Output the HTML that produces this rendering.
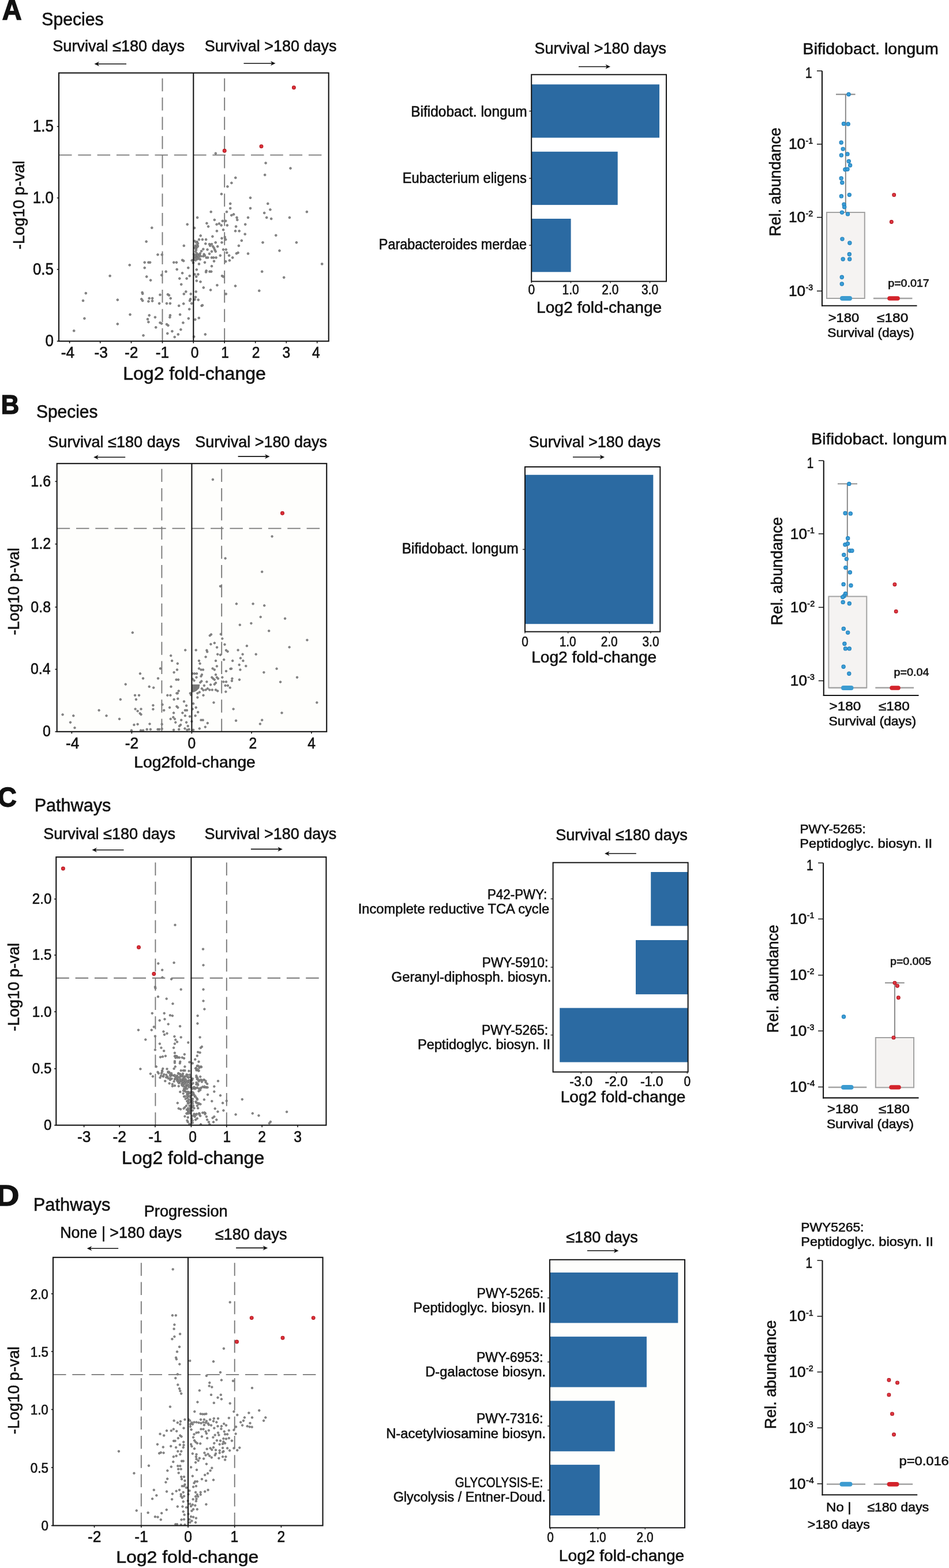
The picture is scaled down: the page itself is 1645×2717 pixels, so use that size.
<!DOCTYPE html>
<html lang="en"><head><meta charset="utf-8"><title>Figure</title>
<style>html,body{margin:0;padding:0;background:#fff}svg{display:block}</style></head>
<body>
<svg width="1645" height="2717" viewBox="0 0 1645 2717" font-family="'Liberation Sans', sans-serif">
<rect width="1645" height="2717" fill="#fff"/>
<text x="3.63" y="34.20" font-size="49.29" textLength="33.85" lengthAdjust="spacingAndGlyphs" fill="#111" font-weight="bold" stroke="#111" stroke-width="1.5">A</text>
<text x="72.34" y="43.70" font-size="31.00" textLength="107.22" lengthAdjust="spacingAndGlyphs" fill="#111" stroke="#111" stroke-width="0.6">Species</text>
<text x="91.28" y="89.30" font-size="27.71" textLength="228.66" lengthAdjust="spacingAndGlyphs" fill="#111" stroke="#111" stroke-width="0.6">Survival ≤180 days</text>
<text x="354.79" y="89.30" font-size="27.71" textLength="228.65" lengthAdjust="spacingAndGlyphs" fill="#111" stroke="#111" stroke-width="0.6">Survival &gt;180 days</text>
<line x1="166.50" y1="110.70" x2="219.00" y2="110.70" stroke="#111" stroke-width="1.60"/>
<path d="M163.50 110.70 L172.00 106.70 L169.50 110.70 L172.00 114.70 Z" fill="#111"/>
<line x1="422.50" y1="109.80" x2="474.50" y2="109.80" stroke="#111" stroke-width="1.60"/>
<path d="M477.50 109.80 L469.00 105.80 L471.50 109.80 L469.00 113.80 Z" fill="#111"/>
<line x1="281.50" y1="135.80" x2="281.50" y2="591.20" stroke="#777777" stroke-width="1.85" stroke-dasharray="22.5 10.8"/>
<line x1="389.20" y1="135.80" x2="389.20" y2="591.20" stroke="#777777" stroke-width="1.85" stroke-dasharray="22.5 10.8"/>
<line x1="102.00" y1="268.60" x2="559.00" y2="268.60" stroke="#777777" stroke-width="1.85" stroke-dasharray="22.5 10.8"/>
<clipPath id="cp1"><rect x="102.00" y="126.40" width="467.70" height="464.80"/></clipPath>
<g clip-path="url(#cp1)">
<g fill="#8b8b8b" stroke="#6c6c6c" stroke-width="0.9"><circle cx="434.0" cy="342.7" r="1.82"/><circle cx="399.2" cy="352.9" r="1.82"/><circle cx="464.3" cy="352.9" r="1.82"/><circle cx="399.2" cy="360.9" r="1.82"/><circle cx="434.0" cy="360.9" r="1.82"/><circle cx="468.4" cy="363.3" r="1.82"/><circle cx="365.7" cy="367.1" r="1.82"/><circle cx="393.0" cy="367.1" r="1.82"/><circle cx="458.2" cy="369.0" r="1.82"/><circle cx="531.9" cy="367.1" r="1.82"/><circle cx="401.3" cy="373.0" r="1.82"/><circle cx="405.1" cy="371.4" r="1.82"/><circle cx="342.1" cy="377.0" r="1.82"/><circle cx="410.5" cy="377.0" r="1.82"/><circle cx="430.0" cy="377.0" r="1.82"/><circle cx="462.2" cy="377.0" r="1.82"/><circle cx="501.9" cy="377.0" r="1.82"/><circle cx="470.2" cy="379.1" r="1.82"/><circle cx="371.8" cy="381.0" r="1.82"/><circle cx="411.3" cy="381.0" r="1.82"/><circle cx="385.8" cy="382.9" r="1.82"/><circle cx="391.2" cy="382.9" r="1.82"/><circle cx="324.7" cy="388.8" r="1.82"/><circle cx="358.4" cy="386.9" r="1.82"/><circle cx="379.9" cy="387.5" r="1.82"/><circle cx="375.6" cy="388.8" r="1.82"/><circle cx="383.6" cy="390.4" r="1.82"/><circle cx="393.8" cy="390.4" r="1.82"/><circle cx="425.2" cy="388.8" r="1.82"/><circle cx="361.1" cy="392.5" r="1.82"/><circle cx="337.0" cy="395.0" r="1.82"/><circle cx="409.1" cy="392.5" r="1.82"/><circle cx="387.1" cy="398.2" r="1.82"/><circle cx="375.9" cy="400.3" r="1.82"/><circle cx="408.0" cy="400.3" r="1.82"/><circle cx="414.7" cy="400.3" r="1.82"/><circle cx="424.7" cy="405.7" r="1.82"/><circle cx="478.3" cy="407.8" r="1.82"/><circle cx="347.7" cy="408.4" r="1.82"/><circle cx="368.4" cy="409.7" r="1.82"/><circle cx="389.8" cy="411.0" r="1.82"/><circle cx="384.5" cy="412.9" r="1.82"/><circle cx="391.2" cy="415.1" r="1.82"/><circle cx="345.0" cy="415.1" r="1.82"/><circle cx="350.9" cy="415.1" r="1.82"/><circle cx="357.1" cy="415.1" r="1.82"/><circle cx="418.8" cy="416.9" r="1.82"/><circle cx="337.5" cy="417.7" r="1.82"/><circle cx="341.6" cy="419.1" r="1.82"/><circle cx="373.7" cy="420.2" r="1.82"/><circle cx="384.5" cy="420.2" r="1.82"/><circle cx="455.5" cy="420.2" r="1.82"/><circle cx="513.9" cy="420.2" r="1.82"/><circle cx="318.8" cy="425.8" r="1.82"/><circle cx="356.3" cy="422.3" r="1.82"/><circle cx="363.0" cy="423.1" r="1.82"/><circle cx="367.0" cy="423.1" r="1.82"/><circle cx="338.9" cy="425.8" r="1.82"/><circle cx="342.9" cy="426.3" r="1.82"/><circle cx="364.3" cy="425.8" r="1.82"/><circle cx="369.2" cy="427.1" r="1.82"/><circle cx="377.2" cy="427.1" r="1.82"/><circle cx="413.9" cy="425.8" r="1.82"/><circle cx="338.3" cy="428.5" r="1.82"/><circle cx="340.2" cy="429.8" r="1.82"/><circle cx="371.0" cy="429.8" r="1.82"/><circle cx="352.3" cy="431.7" r="1.82"/><circle cx="359.5" cy="432.5" r="1.82"/><circle cx="372.4" cy="433.0" r="1.82"/><circle cx="387.1" cy="432.5" r="1.82"/><circle cx="391.7" cy="432.5" r="1.82"/><circle cx="484.5" cy="434.4" r="1.82"/><circle cx="349.1" cy="435.2" r="1.82"/><circle cx="367.0" cy="435.7" r="1.82"/><circle cx="373.7" cy="435.7" r="1.82"/><circle cx="393.3" cy="437.9" r="1.82"/><circle cx="409.9" cy="439.2" r="1.82"/><circle cx="412.6" cy="437.9" r="1.82"/><circle cx="430.0" cy="439.5" r="1.82"/><circle cx="336.2" cy="440.5" r="1.82"/><circle cx="340.2" cy="441.3" r="1.82"/><circle cx="344.2" cy="441.3" r="1.82"/><circle cx="346.9" cy="439.2" r="1.82"/><circle cx="353.6" cy="440.5" r="1.82"/><circle cx="363.0" cy="439.7" r="1.82"/><circle cx="381.8" cy="442.7" r="1.82"/><circle cx="397.1" cy="442.7" r="1.82"/><circle cx="337.5" cy="444.0" r="1.82"/><circle cx="341.6" cy="444.0" r="1.82"/><circle cx="352.3" cy="444.0" r="1.82"/><circle cx="355.0" cy="442.7" r="1.82"/><circle cx="336.7" cy="446.7" r="1.82"/><circle cx="340.2" cy="446.7" r="1.82"/><circle cx="346.9" cy="449.4" r="1.82"/><circle cx="357.6" cy="446.4" r="1.82"/><circle cx="360.3" cy="446.4" r="1.82"/><circle cx="367.0" cy="446.4" r="1.82"/><circle cx="370.2" cy="446.4" r="1.82"/><circle cx="374.5" cy="446.4" r="1.82"/><circle cx="403.2" cy="446.4" r="1.82"/><circle cx="316.1" cy="450.7" r="1.82"/><circle cx="318.2" cy="452.1" r="1.82"/><circle cx="332.7" cy="451.3" r="1.82"/><circle cx="335.7" cy="449.9" r="1.82"/><circle cx="397.9" cy="451.3" r="1.82"/><circle cx="301.3" cy="454.7" r="1.82"/><circle cx="305.9" cy="454.7" r="1.82"/><circle cx="355.0" cy="454.7" r="1.82"/><circle cx="371.0" cy="452.6" r="1.82"/><circle cx="391.2" cy="453.1" r="1.82"/><circle cx="334.9" cy="455.3" r="1.82"/><circle cx="345.0" cy="457.4" r="1.82"/><circle cx="558.2" cy="457.4" r="1.82"/><circle cx="367.0" cy="461.2" r="1.82"/><circle cx="326.3" cy="464.1" r="1.82"/><circle cx="306.7" cy="466.8" r="1.82"/><circle cx="340.8" cy="467.3" r="1.82"/><circle cx="357.6" cy="469.2" r="1.82"/><circle cx="357.1" cy="471.4" r="1.82"/><circle cx="363.5" cy="470.6" r="1.82"/><circle cx="366.2" cy="470.6" r="1.82"/><circle cx="454.2" cy="470.6" r="1.82"/><circle cx="316.1" cy="473.2" r="1.82"/><circle cx="337.5" cy="475.4" r="1.82"/><circle cx="343.4" cy="475.4" r="1.82"/><circle cx="328.7" cy="478.1" r="1.82"/><circle cx="385.0" cy="478.1" r="1.82"/><circle cx="387.1" cy="479.4" r="1.82"/><circle cx="340.2" cy="479.4" r="1.82"/><circle cx="492.2" cy="480.8" r="1.82"/><circle cx="311.3" cy="482.6" r="1.82"/><circle cx="323.6" cy="482.6" r="1.82"/><circle cx="340.8" cy="486.6" r="1.82"/><circle cx="347.5" cy="488.3" r="1.82"/><circle cx="314.2" cy="492.8" r="1.82"/><circle cx="376.4" cy="494.2" r="1.82"/><circle cx="408.0" cy="495.5" r="1.82"/><circle cx="352.8" cy="498.4" r="1.82"/><circle cx="365.1" cy="502.5" r="1.82"/><circle cx="449.3" cy="503.8" r="1.82"/><circle cx="322.3" cy="505.4" r="1.82"/><circle cx="339.7" cy="505.4" r="1.82"/><circle cx="318.8" cy="509.4" r="1.82"/><circle cx="330.8" cy="509.4" r="1.82"/><circle cx="391.7" cy="509.4" r="1.82"/><circle cx="338.9" cy="514.8" r="1.82"/><circle cx="330.0" cy="518.3" r="1.82"/><circle cx="337.5" cy="519.1" r="1.82"/><circle cx="343.7" cy="519.6" r="1.82"/><circle cx="329.0" cy="521.0" r="1.82"/><circle cx="318.2" cy="526.3" r="1.82"/><circle cx="332.2" cy="525.8" r="1.82"/><circle cx="310.2" cy="529.8" r="1.82"/><circle cx="349.6" cy="529.8" r="1.82"/><circle cx="350.9" cy="529.0" r="1.82"/><circle cx="328.2" cy="535.7" r="1.82"/><circle cx="312.1" cy="545.1" r="1.82"/><circle cx="344.8" cy="551.0" r="1.82"/><circle cx="326.8" cy="551.8" r="1.82"/><circle cx="338.3" cy="553.7" r="1.82"/><circle cx="317.4" cy="559.3" r="1.82"/><circle cx="313.4" cy="571.1" r="1.82"/><circle cx="308.8" cy="579.4" r="1.82"/><circle cx="355.8" cy="579.4" r="1.82"/><circle cx="302.7" cy="584.0" r="1.82"/><circle cx="336.2" cy="583.4" r="1.82"/><circle cx="263.3" cy="394.7" r="1.82"/><circle cx="253.6" cy="418.6" r="1.82"/><circle cx="273.5" cy="441.3" r="1.82"/><circle cx="280.7" cy="441.3" r="1.82"/><circle cx="250.7" cy="454.7" r="1.82"/><circle cx="257.4" cy="454.7" r="1.82"/><circle cx="260.1" cy="454.7" r="1.82"/><circle cx="224.7" cy="459.3" r="1.82"/><circle cx="250.7" cy="464.1" r="1.82"/><circle cx="190.6" cy="478.1" r="1.82"/><circle cx="287.7" cy="470.6" r="1.82"/><circle cx="280.2" cy="476.7" r="1.82"/><circle cx="254.2" cy="479.4" r="1.82"/><circle cx="261.1" cy="485.6" r="1.82"/><circle cx="148.8" cy="508.1" r="1.82"/><circle cx="246.6" cy="506.8" r="1.82"/><circle cx="247.2" cy="508.9" r="1.82"/><circle cx="277.5" cy="510.8" r="1.82"/><circle cx="290.9" cy="510.2" r="1.82"/><circle cx="293.0" cy="511.6" r="1.82"/><circle cx="295.7" cy="516.9" r="1.82"/><circle cx="144.0" cy="521.0" r="1.82"/><circle cx="203.8" cy="519.6" r="1.82"/><circle cx="245.3" cy="518.3" r="1.82"/><circle cx="247.2" cy="521.0" r="1.82"/><circle cx="257.4" cy="522.3" r="1.82"/><circle cx="258.7" cy="516.9" r="1.82"/><circle cx="264.1" cy="516.9" r="1.82"/><circle cx="264.1" cy="521.5" r="1.82"/><circle cx="276.1" cy="525.8" r="1.82"/><circle cx="289.0" cy="525.8" r="1.82"/><circle cx="294.9" cy="525.8" r="1.82"/><circle cx="146.4" cy="551.8" r="1.82"/><circle cx="225.5" cy="545.1" r="1.82"/><circle cx="258.7" cy="546.4" r="1.82"/><circle cx="268.9" cy="549.7" r="1.82"/><circle cx="294.9" cy="546.4" r="1.82"/><circle cx="294.4" cy="549.7" r="1.82"/><circle cx="256.0" cy="553.1" r="1.82"/><circle cx="257.4" cy="558.0" r="1.82"/><circle cx="277.5" cy="559.3" r="1.82"/><circle cx="280.2" cy="560.6" r="1.82"/><circle cx="289.0" cy="562.0" r="1.82"/><circle cx="291.4" cy="563.9" r="1.82"/><circle cx="203.8" cy="561.4" r="1.82"/><circle cx="270.2" cy="567.3" r="1.82"/><circle cx="128.2" cy="573.2" r="1.82"/><circle cx="290.3" cy="577.8" r="1.82"/><circle cx="298.4" cy="574.0" r="1.82"/><circle cx="248.5" cy="581.3" r="1.82"/><circle cx="373.8" cy="265.8" r="1.82"/><circle cx="460.6" cy="282.5" r="1.82"/><circle cx="503.5" cy="291.6" r="1.82"/><circle cx="459.2" cy="303.1" r="1.82"/><circle cx="408.3" cy="308.0" r="1.82"/><circle cx="401.4" cy="317.0" r="1.82"/><circle cx="394.4" cy="323.3" r="1.82"/><circle cx="383.9" cy="336.2" r="1.82"/><circle cx="338.0" cy="430.0" r="1.82"/><circle cx="340.0" cy="433.0" r="1.82"/><circle cx="342.0" cy="428.0" r="1.82"/><circle cx="339.0" cy="436.0" r="1.82"/><circle cx="341.0" cy="439.0" r="1.82"/><circle cx="343.0" cy="442.0" r="1.82"/><circle cx="338.0" cy="444.0" r="1.82"/><circle cx="340.0" cy="447.0" r="1.82"/><circle cx="344.0" cy="445.0" r="1.82"/><circle cx="346.0" cy="442.0" r="1.82"/><circle cx="342.0" cy="449.0" r="1.82"/><circle cx="339.0" cy="451.0" r="1.82"/><circle cx="345.0" cy="448.0" r="1.82"/><circle cx="348.0" cy="444.0" r="1.82"/><circle cx="341.0" cy="425.0" r="1.82"/><circle cx="343.0" cy="422.0" r="1.82"/><circle cx="340.0" cy="420.0" r="1.82"/></g>
</g>
<g fill="#de303a" stroke="#b4181f" stroke-width="1.1"><circle cx="509.4" cy="151.8" r="2.9"/><circle cx="453.0" cy="253.6" r="2.9"/><circle cx="389.2" cy="261.3" r="2.9"/></g>
<line x1="335.30" y1="126.40" x2="335.30" y2="591.20" stroke="#151515" stroke-width="2.10"/>
<rect x="102.00" y="126.40" width="467.70" height="464.80" fill="none" stroke="#151515" stroke-width="2.10"/>
<line x1="120.60" y1="591.20" x2="120.60" y2="594.70" stroke="#151515" stroke-width="1.60"/>
<text x="105.69" y="620.00" font-size="28.00" textLength="23.40" lengthAdjust="spacingAndGlyphs" fill="#111" stroke="#111" stroke-width="0.6">-4</text>
<line x1="173.70" y1="591.20" x2="173.70" y2="594.70" stroke="#151515" stroke-width="1.60"/>
<text x="163.49" y="620.00" font-size="28.00" textLength="23.40" lengthAdjust="spacingAndGlyphs" fill="#111" stroke="#111" stroke-width="0.6">-3</text>
<line x1="227.50" y1="591.20" x2="227.50" y2="594.70" stroke="#151515" stroke-width="1.60"/>
<text x="215.89" y="620.00" font-size="28.00" textLength="23.40" lengthAdjust="spacingAndGlyphs" fill="#111" stroke="#111" stroke-width="0.6">-2</text>
<line x1="281.50" y1="591.20" x2="281.50" y2="594.70" stroke="#151515" stroke-width="1.60"/>
<text x="269.85" y="620.00" font-size="28.00" textLength="23.40" lengthAdjust="spacingAndGlyphs" fill="#111" stroke="#111" stroke-width="0.6">-1</text>
<line x1="335.30" y1="591.20" x2="335.30" y2="594.70" stroke="#151515" stroke-width="1.60"/>
<text x="330.73" y="620.00" font-size="28.00" textLength="13.70" lengthAdjust="spacingAndGlyphs" fill="#111" stroke="#111" stroke-width="0.6">0</text>
<line x1="389.20" y1="591.20" x2="389.20" y2="594.70" stroke="#151515" stroke-width="1.60"/>
<text x="383.22" y="620.00" font-size="28.00" textLength="13.70" lengthAdjust="spacingAndGlyphs" fill="#111" stroke="#111" stroke-width="0.6">1</text>
<line x1="442.70" y1="591.20" x2="442.70" y2="594.70" stroke="#151515" stroke-width="1.60"/>
<text x="436.86" y="620.00" font-size="28.00" textLength="13.70" lengthAdjust="spacingAndGlyphs" fill="#111" stroke="#111" stroke-width="0.6">2</text>
<line x1="496.30" y1="591.20" x2="496.30" y2="594.70" stroke="#151515" stroke-width="1.60"/>
<text x="489.52" y="620.00" font-size="28.00" textLength="13.70" lengthAdjust="spacingAndGlyphs" fill="#111" stroke="#111" stroke-width="0.6">3</text>
<line x1="549.70" y1="591.20" x2="549.70" y2="594.70" stroke="#151515" stroke-width="1.60"/>
<text x="540.92" y="620.00" font-size="28.00" textLength="13.70" lengthAdjust="spacingAndGlyphs" fill="#111" stroke="#111" stroke-width="0.6">4</text>
<line x1="98.80" y1="591.20" x2="102.00" y2="591.20" stroke="#151515" stroke-width="1.60"/>
<text x="78.55" y="599.90" font-size="28.57" textLength="14.46" lengthAdjust="spacingAndGlyphs" fill="#111" stroke="#111" stroke-width="0.6">0</text>
<line x1="98.80" y1="466.80" x2="102.00" y2="466.80" stroke="#151515" stroke-width="1.60"/>
<text x="56.90" y="475.50" font-size="28.57" textLength="36.15" lengthAdjust="spacingAndGlyphs" fill="#111" stroke="#111" stroke-width="0.6">0.5</text>
<line x1="98.80" y1="343.00" x2="102.00" y2="343.00" stroke="#151515" stroke-width="1.60"/>
<text x="56.83" y="351.70" font-size="28.57" textLength="36.15" lengthAdjust="spacingAndGlyphs" fill="#111" stroke="#111" stroke-width="0.6">1.0</text>
<line x1="98.80" y1="219.30" x2="102.00" y2="219.30" stroke="#151515" stroke-width="1.60"/>
<text x="56.90" y="228.00" font-size="28.57" textLength="36.15" lengthAdjust="spacingAndGlyphs" fill="#111" stroke="#111" stroke-width="0.6">1.5</text>
<text x="213.16" y="657.70" font-size="30.71" textLength="247.75" lengthAdjust="spacingAndGlyphs" fill="#111" stroke="#111" stroke-width="0.6">Log2 fold-change</text>
<text x="-1.24" y="0" font-size="27.71" textLength="153.79" lengthAdjust="spacingAndGlyphs" fill="#111" stroke="#111" stroke-width="0.6" transform="translate(41.90 431.00) rotate(-90)">-Log10 p-val</text>
<rect x="921.20" y="146.30" width="221.80" height="92.30" fill="#2b6aa2"/>
<rect x="921.20" y="262.80" width="149.50" height="92.30" fill="#2b6aa2"/>
<rect x="921.20" y="379.00" width="68.40" height="92.30" fill="#2b6aa2"/>
<rect x="921.20" y="129.30" width="233.80" height="358.30" fill="none" stroke="#151515" stroke-width="2.00"/>
<line x1="921.20" y1="487.60" x2="921.20" y2="490.60" stroke="#151515" stroke-width="1.20"/>
<text x="915.38" y="510.00" font-size="23.71" textLength="11.61" lengthAdjust="spacingAndGlyphs" fill="#111" stroke="#111" stroke-width="0.6">0</text>
<line x1="989.50" y1="487.60" x2="989.50" y2="490.60" stroke="#151515" stroke-width="1.20"/>
<text x="974.61" y="510.00" font-size="23.71" textLength="29.01" lengthAdjust="spacingAndGlyphs" fill="#111" stroke="#111" stroke-width="0.6">1.0</text>
<line x1="1058.00" y1="487.60" x2="1058.00" y2="490.60" stroke="#151515" stroke-width="1.20"/>
<text x="1043.37" y="510.00" font-size="23.71" textLength="29.01" lengthAdjust="spacingAndGlyphs" fill="#111" stroke="#111" stroke-width="0.6">2.0</text>
<line x1="1126.50" y1="487.60" x2="1126.50" y2="490.60" stroke="#151515" stroke-width="1.20"/>
<text x="1112.00" y="510.00" font-size="23.71" textLength="29.01" lengthAdjust="spacingAndGlyphs" fill="#111" stroke="#111" stroke-width="0.6">3.0</text>
<text x="926.49" y="93.40" font-size="27.71" textLength="228.45" lengthAdjust="spacingAndGlyphs" fill="#111" stroke="#111" stroke-width="0.6">Survival &gt;180 days</text>
<line x1="1003.00" y1="115.50" x2="1055.00" y2="115.50" stroke="#111" stroke-width="1.60"/>
<path d="M1058.00 115.50 L1049.50 111.50 L1052.00 115.50 L1049.50 119.50 Z" fill="#111"/>
<text x="712.18" y="202.00" font-size="24.86" textLength="201.61" lengthAdjust="spacingAndGlyphs" fill="#111" stroke="#111" stroke-width="0.6">Bifidobact. longum</text>
<text x="697.74" y="316.70" font-size="24.86" textLength="215.11" lengthAdjust="spacingAndGlyphs" fill="#111" stroke="#111" stroke-width="0.6">Eubacterium eligens</text>
<text x="656.87" y="432.20" font-size="24.86" textLength="256.15" lengthAdjust="spacingAndGlyphs" fill="#111" stroke="#111" stroke-width="0.6">Parabacteroides merdae</text>
<line x1="917.00" y1="192.50" x2="921.00" y2="192.50" stroke="#151515" stroke-width="1.30"/>
<line x1="917.00" y1="309.00" x2="921.00" y2="309.00" stroke="#151515" stroke-width="1.30"/>
<line x1="917.00" y1="425.00" x2="921.00" y2="425.00" stroke="#151515" stroke-width="1.30"/>
<text x="930.08" y="541.90" font-size="27.14" textLength="217.15" lengthAdjust="spacingAndGlyphs" fill="#111" stroke="#111" stroke-width="0.6">Log2 fold-change</text>
<line x1="1425.00" y1="122.80" x2="1425.00" y2="530.70" stroke="#151515" stroke-width="2.10"/>
<line x1="1424.00" y1="529.70" x2="1589.50" y2="529.70" stroke="#151515" stroke-width="2.10"/>
<line x1="1416.00" y1="122.80" x2="1425.00" y2="122.80" stroke="#151515" stroke-width="1.50"/>
<text x="1395.94" y="135.30" font-size="25.71" textLength="11.57" lengthAdjust="spacingAndGlyphs" fill="#111" stroke="#111" stroke-width="0.6">1</text>
<line x1="1416.00" y1="249.80" x2="1425.00" y2="249.80" stroke="#151515" stroke-width="1.50"/>
<text x="1367.03" y="258.30" font-size="25.00" textLength="29.22" lengthAdjust="spacingAndGlyphs" fill="#111" stroke="#111" stroke-width="0.6">10</text>
<text x="1396.55" y="248.50" font-size="14.71" textLength="12.75" lengthAdjust="spacingAndGlyphs" fill="#111" stroke="#111" stroke-width="0.6">-1</text>
<line x1="1416.00" y1="376.60" x2="1425.00" y2="376.60" stroke="#151515" stroke-width="1.50"/>
<text x="1367.03" y="385.10" font-size="25.00" textLength="29.22" lengthAdjust="spacingAndGlyphs" fill="#111" stroke="#111" stroke-width="0.6">10</text>
<text x="1396.55" y="375.30" font-size="14.71" textLength="12.79" lengthAdjust="spacingAndGlyphs" fill="#111" stroke="#111" stroke-width="0.6">-2</text>
<line x1="1416.00" y1="504.30" x2="1425.00" y2="504.30" stroke="#151515" stroke-width="1.50"/>
<text x="1367.03" y="512.80" font-size="25.00" textLength="29.22" lengthAdjust="spacingAndGlyphs" fill="#111" stroke="#111" stroke-width="0.6">10</text>
<text x="1396.56" y="503.00" font-size="14.71" textLength="12.67" lengthAdjust="spacingAndGlyphs" fill="#111" stroke="#111" stroke-width="0.6">-3</text>
<rect x="1433.00" y="368.00" width="65.80" height="149.00" fill="#f5f3f2" stroke="#a3a3a3" stroke-width="2.00"/>
<line x1="1465.80" y1="163.50" x2="1465.80" y2="368.00" stroke="#858585" stroke-width="1.90"/>
<line x1="1449.00" y1="163.50" x2="1482.60" y2="163.50" stroke="#858585" stroke-width="1.90"/>
<line x1="1433.00" y1="517.00" x2="1498.80" y2="517.00" stroke="#a3a3a3" stroke-width="2.20"/>
<line x1="1513.90" y1="517.00" x2="1581.40" y2="517.00" stroke="#a3a3a3" stroke-width="2.60"/>
<g fill="#3b9fd8" stroke="#2482bd" stroke-width="1.2"><circle cx="1471.1" cy="163.5" r="3.1"/><circle cx="1462.5" cy="214.4" r="3.1"/><circle cx="1470.2" cy="214.9" r="3.1"/><circle cx="1458.2" cy="247.0" r="3.1"/><circle cx="1461.2" cy="258.1" r="3.1"/><circle cx="1458.4" cy="269.0" r="3.1"/><circle cx="1469.0" cy="266.9" r="3.1"/><circle cx="1471.3" cy="279.4" r="3.1"/><circle cx="1473.6" cy="286.5" r="3.1"/><circle cx="1464.9" cy="293.7" r="3.1"/><circle cx="1469.0" cy="293.2" r="3.1"/><circle cx="1458.2" cy="309.0" r="3.1"/><circle cx="1459.8" cy="316.4" r="3.1"/><circle cx="1458.4" cy="339.9" r="3.1"/><circle cx="1472.3" cy="337.6" r="3.1"/><circle cx="1463.0" cy="354.2" r="3.1"/><circle cx="1463.7" cy="358.8" r="3.1"/><circle cx="1459.5" cy="368.1" r="3.1"/><circle cx="1469.5" cy="370.9" r="3.1"/><circle cx="1460.0" cy="414.1" r="3.1"/><circle cx="1472.9" cy="421.0" r="3.1"/><circle cx="1472.3" cy="440.5" r="3.1"/><circle cx="1461.2" cy="449.0" r="3.1"/><circle cx="1472.7" cy="449.0" r="3.1"/><circle cx="1459.3" cy="480.2" r="3.1"/><circle cx="1459.3" cy="492.0" r="3.1"/></g>
<line x1="1460.00" y1="517.00" x2="1473.00" y2="517.00" stroke="#3c9bd0" stroke-width="8.00" stroke-linecap="round"/>
<g fill="#e03843" stroke="#b3161f" stroke-width="1.1"><circle cx="1549.7" cy="337.8" r="2.9"/><circle cx="1545.3" cy="384.5" r="2.9"/></g>
<line x1="1542.00" y1="517.00" x2="1556.00" y2="517.00" stroke="#d3232b" stroke-width="7.60" stroke-linecap="round"/>
<text x="1391.64" y="93.50" font-size="28.14" textLength="235.11" lengthAdjust="spacingAndGlyphs" fill="#111" stroke="#111" stroke-width="0.6">Bifidobact. longum</text>
<text x="1539.22" y="496.90" font-size="17.57" textLength="71.56" lengthAdjust="spacingAndGlyphs" fill="#111" stroke="#111" stroke-width="0.6">p=0.017</text>
<text x="1435.71" y="557.50" font-size="21.43" textLength="53.58" lengthAdjust="spacingAndGlyphs" fill="#111" stroke="#111" stroke-width="0.6">&gt;180</text>
<text x="1520.07" y="557.50" font-size="21.43" textLength="54.21" lengthAdjust="spacingAndGlyphs" fill="#111" stroke="#111" stroke-width="0.6">≤180</text>
<text x="1434.28" y="584.00" font-size="21.43" textLength="150.30" lengthAdjust="spacingAndGlyphs" fill="#111" stroke="#111" stroke-width="0.6">Survival (days)</text>
<text x="-2.22" y="0" font-size="28.29" textLength="188.48" lengthAdjust="spacingAndGlyphs" fill="#111" stroke="#111" stroke-width="0.6" transform="translate(1352.50 407.40) rotate(-90)">Rel. abundance</text>
<text x="1.66" y="717.00" font-size="47.14" textLength="31.49" lengthAdjust="spacingAndGlyphs" fill="#111" font-weight="bold" stroke="#111" stroke-width="1.5">B</text>
<text x="62.95" y="724.40" font-size="31.00" textLength="106.50" lengthAdjust="spacingAndGlyphs" fill="#111" stroke="#111" stroke-width="0.6">Species</text>
<text x="83.28" y="775.40" font-size="27.71" textLength="228.66" lengthAdjust="spacingAndGlyphs" fill="#111" stroke="#111" stroke-width="0.6">Survival ≤180 days</text>
<text x="338.19" y="775.40" font-size="27.71" textLength="228.75" lengthAdjust="spacingAndGlyphs" fill="#111" stroke="#111" stroke-width="0.6">Survival &gt;180 days</text>
<line x1="165.20" y1="792.30" x2="217.20" y2="792.30" stroke="#111" stroke-width="1.60"/>
<path d="M162.20 792.30 L170.70 788.30 L168.20 792.30 L170.70 796.30 Z" fill="#111"/>
<line x1="412.60" y1="790.90" x2="464.60" y2="790.90" stroke="#111" stroke-width="1.60"/>
<path d="M467.60 790.90 L459.10 786.90 L461.60 790.90 L459.10 794.90 Z" fill="#111"/>
<rect x="98.70" y="803.20" width="467.50" height="464.60" fill="#fefefc"/>
<line x1="280.40" y1="812.60" x2="280.40" y2="1267.80" stroke="#777777" stroke-width="1.85" stroke-dasharray="22.5 10.8"/>
<line x1="384.20" y1="812.60" x2="384.20" y2="1267.80" stroke="#777777" stroke-width="1.85" stroke-dasharray="22.5 10.8"/>
<line x1="98.70" y1="915.60" x2="554.70" y2="915.60" stroke="#777777" stroke-width="1.85" stroke-dasharray="22.5 10.8"/>
<clipPath id="cp2"><rect x="98.70" y="803.20" width="467.50" height="464.60"/></clipPath>
<g clip-path="url(#cp2)">
<g fill="#8b8b8b" stroke="#6c6c6c" stroke-width="0.9"><circle cx="390.6" cy="967.5" r="1.72"/><circle cx="382.0" cy="1015.8" r="1.72"/><circle cx="229.8" cy="1096.2" r="1.72"/><circle cx="366.0" cy="1099.4" r="1.72"/><circle cx="363.8" cy="1101.3" r="1.72"/><circle cx="382.8" cy="1098.9" r="1.72"/><circle cx="385.3" cy="1106.6" r="1.72"/><circle cx="371.8" cy="1114.2" r="1.72"/><circle cx="365.4" cy="1116.3" r="1.72"/><circle cx="389.5" cy="1116.8" r="1.72"/><circle cx="376.1" cy="1121.7" r="1.72"/><circle cx="321.2" cy="1126.5" r="1.72"/><circle cx="339.7" cy="1126.5" r="1.72"/><circle cx="358.4" cy="1126.8" r="1.72"/><circle cx="359.2" cy="1129.4" r="1.72"/><circle cx="392.0" cy="1126.8" r="1.72"/><circle cx="394.6" cy="1128.9" r="1.72"/><circle cx="296.2" cy="1136.1" r="1.72"/><circle cx="377.2" cy="1133.7" r="1.72"/><circle cx="382.0" cy="1134.8" r="1.72"/><circle cx="356.6" cy="1138.3" r="1.72"/><circle cx="388.2" cy="1143.1" r="1.72"/><circle cx="298.1" cy="1145.0" r="1.72"/><circle cx="345.0" cy="1145.0" r="1.72"/><circle cx="374.0" cy="1145.0" r="1.72"/><circle cx="307.8" cy="1149.8" r="1.72"/><circle cx="346.6" cy="1149.8" r="1.72"/><circle cx="375.9" cy="1154.4" r="1.72"/><circle cx="278.0" cy="1158.4" r="1.72"/><circle cx="307.0" cy="1160.5" r="1.72"/><circle cx="345.0" cy="1158.4" r="1.72"/><circle cx="348.5" cy="1160.5" r="1.72"/><circle cx="352.0" cy="1160.5" r="1.72"/><circle cx="368.6" cy="1158.4" r="1.72"/><circle cx="371.8" cy="1160.5" r="1.72"/><circle cx="392.0" cy="1162.9" r="1.72"/><circle cx="399.5" cy="1158.9" r="1.72"/><circle cx="301.6" cy="1165.1" r="1.72"/><circle cx="242.9" cy="1167.2" r="1.72"/><circle cx="333.8" cy="1167.2" r="1.72"/><circle cx="337.3" cy="1167.2" r="1.72"/><circle cx="341.0" cy="1167.2" r="1.72"/><circle cx="349.9" cy="1169.1" r="1.72"/><circle cx="374.0" cy="1169.1" r="1.72"/><circle cx="340.5" cy="1173.7" r="1.72"/><circle cx="348.5" cy="1171.8" r="1.72"/><circle cx="367.3" cy="1173.7" r="1.72"/><circle cx="375.9" cy="1173.7" r="1.72"/><circle cx="385.3" cy="1173.7" r="1.72"/><circle cx="248.0" cy="1175.5" r="1.72"/><circle cx="274.0" cy="1175.5" r="1.72"/><circle cx="305.6" cy="1177.7" r="1.72"/><circle cx="309.1" cy="1177.7" r="1.72"/><circle cx="333.8" cy="1176.6" r="1.72"/><circle cx="336.5" cy="1179.3" r="1.72"/><circle cx="369.4" cy="1175.8" r="1.72"/><circle cx="371.8" cy="1177.7" r="1.72"/><circle cx="378.0" cy="1175.8" r="1.72"/><circle cx="349.3" cy="1180.4" r="1.72"/><circle cx="347.2" cy="1182.5" r="1.72"/><circle cx="358.4" cy="1181.4" r="1.72"/><circle cx="374.0" cy="1183.3" r="1.72"/><circle cx="387.4" cy="1181.4" r="1.72"/><circle cx="392.0" cy="1181.4" r="1.72"/><circle cx="217.7" cy="1185.7" r="1.72"/><circle cx="353.9" cy="1187.9" r="1.72"/><circle cx="365.1" cy="1186.5" r="1.72"/><circle cx="371.8" cy="1185.7" r="1.72"/><circle cx="390.6" cy="1187.9" r="1.72"/><circle cx="394.9" cy="1187.9" r="1.72"/><circle cx="258.7" cy="1189.8" r="1.72"/><circle cx="266.2" cy="1191.6" r="1.72"/><circle cx="296.5" cy="1189.8" r="1.72"/><circle cx="398.7" cy="1191.6" r="1.72"/><circle cx="349.9" cy="1193.2" r="1.72"/><circle cx="352.5" cy="1195.9" r="1.72"/><circle cx="356.6" cy="1195.4" r="1.72"/><circle cx="359.8" cy="1193.2" r="1.72"/><circle cx="363.3" cy="1195.4" r="1.72"/><circle cx="367.8" cy="1195.4" r="1.72"/><circle cx="374.0" cy="1195.4" r="1.72"/><circle cx="377.2" cy="1197.3" r="1.72"/><circle cx="345.8" cy="1199.4" r="1.72"/><circle cx="342.4" cy="1201.3" r="1.72"/><circle cx="391.4" cy="1198.6" r="1.72"/><circle cx="309.7" cy="1197.3" r="1.72"/><circle cx="307.8" cy="1201.3" r="1.72"/><circle cx="306.4" cy="1201.3" r="1.72"/><circle cx="329.8" cy="1201.3" r="1.72"/><circle cx="331.1" cy="1204.0" r="1.72"/><circle cx="234.0" cy="1204.8" r="1.72"/><circle cx="241.0" cy="1204.8" r="1.72"/><circle cx="290.3" cy="1204.8" r="1.72"/><circle cx="295.4" cy="1204.8" r="1.72"/><circle cx="352.5" cy="1204.8" r="1.72"/><circle cx="208.8" cy="1212.0" r="1.72"/><circle cx="235.9" cy="1212.0" r="1.72"/><circle cx="301.6" cy="1212.0" r="1.72"/><circle cx="308.3" cy="1210.7" r="1.72"/><circle cx="342.4" cy="1208.5" r="1.72"/><circle cx="319.0" cy="1215.5" r="1.72"/><circle cx="370.5" cy="1217.4" r="1.72"/><circle cx="335.1" cy="1219.2" r="1.72"/><circle cx="265.4" cy="1222.2" r="1.72"/><circle cx="323.1" cy="1222.7" r="1.72"/><circle cx="306.4" cy="1224.1" r="1.72"/><circle cx="308.3" cy="1226.0" r="1.72"/><circle cx="294.1" cy="1226.0" r="1.72"/><circle cx="281.5" cy="1220.9" r="1.72"/><circle cx="339.7" cy="1226.0" r="1.72"/><circle cx="234.6" cy="1228.6" r="1.72"/><circle cx="238.6" cy="1232.1" r="1.72"/><circle cx="244.5" cy="1228.6" r="1.72"/><circle cx="265.4" cy="1228.9" r="1.72"/><circle cx="284.2" cy="1230.8" r="1.72"/><circle cx="320.9" cy="1230.8" r="1.72"/><circle cx="323.9" cy="1230.8" r="1.72"/><circle cx="333.8" cy="1228.6" r="1.72"/><circle cx="171.6" cy="1230.8" r="1.72"/><circle cx="301.1" cy="1235.3" r="1.72"/><circle cx="316.4" cy="1235.3" r="1.72"/><circle cx="343.2" cy="1234.0" r="1.72"/><circle cx="108.6" cy="1238.3" r="1.72"/><circle cx="127.3" cy="1240.2" r="1.72"/><circle cx="184.5" cy="1240.2" r="1.72"/><circle cx="242.6" cy="1236.1" r="1.72"/><circle cx="244.5" cy="1238.0" r="1.72"/><circle cx="320.9" cy="1240.2" r="1.72"/><circle cx="329.0" cy="1241.5" r="1.72"/><circle cx="338.6" cy="1240.2" r="1.72"/><circle cx="300.3" cy="1242.8" r="1.72"/><circle cx="207.0" cy="1245.8" r="1.72"/><circle cx="295.7" cy="1245.8" r="1.72"/><circle cx="302.9" cy="1245.8" r="1.72"/><circle cx="314.2" cy="1247.7" r="1.72"/><circle cx="348.5" cy="1247.7" r="1.72"/><circle cx="351.7" cy="1247.7" r="1.72"/><circle cx="122.0" cy="1251.7" r="1.72"/><circle cx="304.3" cy="1251.7" r="1.72"/><circle cx="323.1" cy="1251.7" r="1.72"/><circle cx="332.4" cy="1250.1" r="1.72"/><circle cx="359.8" cy="1253.0" r="1.72"/><circle cx="232.4" cy="1256.0" r="1.72"/><circle cx="238.6" cy="1254.9" r="1.72"/><circle cx="259.5" cy="1254.4" r="1.72"/><circle cx="280.7" cy="1254.9" r="1.72"/><circle cx="313.1" cy="1256.0" r="1.72"/><circle cx="311.0" cy="1258.1" r="1.72"/><circle cx="325.7" cy="1258.1" r="1.72"/><circle cx="355.8" cy="1259.7" r="1.72"/><circle cx="129.5" cy="1261.1" r="1.72"/><circle cx="320.4" cy="1262.4" r="1.72"/><circle cx="345.8" cy="1262.4" r="1.72"/><circle cx="227.9" cy="1265.6" r="1.72"/><circle cx="244.0" cy="1265.6" r="1.72"/><circle cx="248.0" cy="1265.6" r="1.72"/><circle cx="254.7" cy="1263.8" r="1.72"/><circle cx="260.9" cy="1263.8" r="1.72"/><circle cx="273.5" cy="1263.8" r="1.72"/><circle cx="276.1" cy="1263.8" r="1.72"/><circle cx="280.7" cy="1262.9" r="1.72"/><circle cx="301.1" cy="1264.8" r="1.72"/><circle cx="310.2" cy="1263.8" r="1.72"/><circle cx="324.4" cy="1264.8" r="1.72"/><circle cx="327.6" cy="1263.8" r="1.72"/><circle cx="335.1" cy="1264.8" r="1.72"/><circle cx="454.2" cy="990.8" r="1.72"/><circle cx="409.9" cy="1046.3" r="1.72"/><circle cx="438.6" cy="1046.3" r="1.72"/><circle cx="458.2" cy="1049.3" r="1.72"/><circle cx="451.7" cy="1069.1" r="1.72"/><circle cx="494.1" cy="1071.8" r="1.72"/><circle cx="435.4" cy="1080.1" r="1.72"/><circle cx="415.8" cy="1082.8" r="1.72"/><circle cx="466.2" cy="1093.2" r="1.72"/><circle cx="532.4" cy="1109.1" r="1.72"/><circle cx="427.9" cy="1119.2" r="1.72"/><circle cx="501.6" cy="1121.4" r="1.72"/><circle cx="412.6" cy="1126.5" r="1.72"/><circle cx="420.6" cy="1133.7" r="1.72"/><circle cx="443.7" cy="1133.7" r="1.72"/><circle cx="416.9" cy="1140.4" r="1.72"/><circle cx="403.2" cy="1145.0" r="1.72"/><circle cx="421.4" cy="1145.0" r="1.72"/><circle cx="414.7" cy="1152.0" r="1.72"/><circle cx="426.3" cy="1154.1" r="1.72"/><circle cx="401.1" cy="1158.7" r="1.72"/><circle cx="416.4" cy="1160.5" r="1.72"/><circle cx="479.6" cy="1158.7" r="1.72"/><circle cx="457.4" cy="1165.1" r="1.72"/><circle cx="402.4" cy="1175.8" r="1.72"/><circle cx="401.9" cy="1179.8" r="1.72"/><circle cx="415.0" cy="1177.7" r="1.72"/><circle cx="515.0" cy="1173.7" r="1.72"/><circle cx="486.1" cy="1181.7" r="1.72"/><circle cx="404.6" cy="1228.6" r="1.72"/><circle cx="549.3" cy="1217.4" r="1.72"/><circle cx="488.5" cy="1235.3" r="1.72"/><circle cx="409.1" cy="1248.7" r="1.72"/><circle cx="454.2" cy="1247.7" r="1.72"/><circle cx="450.9" cy="1254.4" r="1.72"/><circle cx="368.9" cy="830.9" r="1.72"/><circle cx="471.6" cy="929.5" r="1.72"/></g>
</g>
<polygon points="331.9,1186.0 346.4,1186.0 345.3,1192.7 340.5,1197.3 335.7,1199.4 331.9,1199.4" fill="#7a7a7a"/>
<g fill="#de303a" stroke="#b4181f" stroke-width="1.1"><circle cx="489.5" cy="889.3" r="2.9"/></g>
<line x1="332.40" y1="803.20" x2="332.40" y2="1267.80" stroke="#151515" stroke-width="2.10"/>
<rect x="98.70" y="803.20" width="467.50" height="464.60" fill="none" stroke="#151515" stroke-width="2.10"/>
<line x1="124.40" y1="1267.80" x2="124.40" y2="1271.30" stroke="#151515" stroke-width="1.60"/>
<text x="113.99" y="1296.50" font-size="28.00" textLength="23.40" lengthAdjust="spacingAndGlyphs" fill="#111" stroke="#111" stroke-width="0.6">-4</text>
<line x1="228.40" y1="1267.80" x2="228.40" y2="1271.30" stroke="#151515" stroke-width="1.60"/>
<text x="216.79" y="1296.50" font-size="28.00" textLength="23.40" lengthAdjust="spacingAndGlyphs" fill="#111" stroke="#111" stroke-width="0.6">-2</text>
<line x1="332.40" y1="1267.80" x2="332.40" y2="1271.30" stroke="#151515" stroke-width="1.60"/>
<text x="325.53" y="1296.50" font-size="28.00" textLength="13.70" lengthAdjust="spacingAndGlyphs" fill="#111" stroke="#111" stroke-width="0.6">0</text>
<line x1="436.20" y1="1267.80" x2="436.20" y2="1271.30" stroke="#151515" stroke-width="1.60"/>
<text x="431.56" y="1296.50" font-size="28.00" textLength="13.70" lengthAdjust="spacingAndGlyphs" fill="#111" stroke="#111" stroke-width="0.6">2</text>
<line x1="540.00" y1="1267.80" x2="540.00" y2="1271.30" stroke="#151515" stroke-width="1.60"/>
<text x="533.22" y="1296.50" font-size="28.00" textLength="13.70" lengthAdjust="spacingAndGlyphs" fill="#111" stroke="#111" stroke-width="0.6">4</text>
<line x1="95.50" y1="1267.80" x2="98.70" y2="1267.80" stroke="#151515" stroke-width="1.60"/>
<text x="74.08" y="1276.40" font-size="27.43" textLength="13.88" lengthAdjust="spacingAndGlyphs" fill="#111" stroke="#111" stroke-width="0.6">0</text>
<line x1="95.50" y1="1159.70" x2="98.70" y2="1159.70" stroke="#151515" stroke-width="1.60"/>
<text x="52.99" y="1168.30" font-size="27.43" textLength="34.70" lengthAdjust="spacingAndGlyphs" fill="#111" stroke="#111" stroke-width="0.6">0.4</text>
<line x1="95.50" y1="1052.00" x2="98.70" y2="1052.00" stroke="#151515" stroke-width="1.60"/>
<text x="53.37" y="1060.60" font-size="27.43" textLength="34.70" lengthAdjust="spacingAndGlyphs" fill="#111" stroke="#111" stroke-width="0.6">0.8</text>
<line x1="95.50" y1="942.70" x2="98.70" y2="942.70" stroke="#151515" stroke-width="1.60"/>
<text x="53.55" y="951.30" font-size="27.43" textLength="34.70" lengthAdjust="spacingAndGlyphs" fill="#111" stroke="#111" stroke-width="0.6">1.2</text>
<line x1="95.50" y1="834.30" x2="98.70" y2="834.30" stroke="#151515" stroke-width="1.60"/>
<text x="53.37" y="842.90" font-size="27.43" textLength="34.70" lengthAdjust="spacingAndGlyphs" fill="#111" stroke="#111" stroke-width="0.6">1.6</text>
<text x="232.27" y="1330.00" font-size="26.86" textLength="210.56" lengthAdjust="spacingAndGlyphs" fill="#111" stroke="#111" stroke-width="0.6">Log2fold-change</text>
<text x="-1.23" y="0" font-size="27.71" textLength="151.44" lengthAdjust="spacingAndGlyphs" fill="#111" stroke="#111" stroke-width="0.6" transform="translate(33.40 1099.40) rotate(-90)">-Log10 p-val</text>
<rect x="910.00" y="822.80" width="222.30" height="258.40" fill="#2b6aa2"/>
<rect x="910.00" y="809.00" width="234.30" height="285.60" fill="none" stroke="#151515" stroke-width="2.00"/>
<line x1="910.00" y1="1094.60" x2="910.00" y2="1097.60" stroke="#151515" stroke-width="1.20"/>
<text x="904.18" y="1120.00" font-size="23.71" textLength="11.61" lengthAdjust="spacingAndGlyphs" fill="#111" stroke="#111" stroke-width="0.6">0</text>
<line x1="984.60" y1="1094.60" x2="984.60" y2="1097.60" stroke="#151515" stroke-width="1.20"/>
<text x="969.71" y="1120.00" font-size="23.71" textLength="29.01" lengthAdjust="spacingAndGlyphs" fill="#111" stroke="#111" stroke-width="0.6">1.0</text>
<line x1="1056.30" y1="1094.60" x2="1056.30" y2="1097.60" stroke="#151515" stroke-width="1.20"/>
<text x="1041.67" y="1120.00" font-size="23.71" textLength="29.01" lengthAdjust="spacingAndGlyphs" fill="#111" stroke="#111" stroke-width="0.6">2.0</text>
<line x1="1128.00" y1="1094.60" x2="1128.00" y2="1097.60" stroke="#151515" stroke-width="1.20"/>
<text x="1113.50" y="1120.00" font-size="23.71" textLength="29.01" lengthAdjust="spacingAndGlyphs" fill="#111" stroke="#111" stroke-width="0.6">3.0</text>
<text x="916.79" y="775.40" font-size="27.71" textLength="228.45" lengthAdjust="spacingAndGlyphs" fill="#111" stroke="#111" stroke-width="0.6">Survival &gt;180 days</text>
<line x1="993.00" y1="792.00" x2="1045.00" y2="792.00" stroke="#111" stroke-width="1.60"/>
<path d="M1048.00 792.00 L1039.50 788.00 L1042.00 792.00 L1039.50 796.00 Z" fill="#111"/>
<text x="696.68" y="958.90" font-size="24.86" textLength="201.92" lengthAdjust="spacingAndGlyphs" fill="#111" stroke="#111" stroke-width="0.6">Bifidobact. longum</text>
<line x1="906.00" y1="952.00" x2="910.00" y2="952.00" stroke="#151515" stroke-width="1.30"/>
<text x="921.18" y="1148.20" font-size="27.14" textLength="217.05" lengthAdjust="spacingAndGlyphs" fill="#111" stroke="#111" stroke-width="0.6">Log2 fold-change</text>
<line x1="1427.80" y1="798.20" x2="1427.80" y2="1206.00" stroke="#151515" stroke-width="2.10"/>
<line x1="1426.80" y1="1205.00" x2="1592.50" y2="1205.00" stroke="#151515" stroke-width="2.10"/>
<line x1="1418.80" y1="798.20" x2="1427.80" y2="798.20" stroke="#151515" stroke-width="1.50"/>
<text x="1398.74" y="810.70" font-size="25.71" textLength="11.57" lengthAdjust="spacingAndGlyphs" fill="#111" stroke="#111" stroke-width="0.6">1</text>
<line x1="1418.80" y1="925.00" x2="1427.80" y2="925.00" stroke="#151515" stroke-width="1.50"/>
<text x="1369.83" y="933.50" font-size="25.00" textLength="29.22" lengthAdjust="spacingAndGlyphs" fill="#111" stroke="#111" stroke-width="0.6">10</text>
<text x="1399.35" y="923.70" font-size="14.71" textLength="12.75" lengthAdjust="spacingAndGlyphs" fill="#111" stroke="#111" stroke-width="0.6">-1</text>
<line x1="1418.80" y1="1052.40" x2="1427.80" y2="1052.40" stroke="#151515" stroke-width="1.50"/>
<text x="1369.83" y="1060.90" font-size="25.00" textLength="29.22" lengthAdjust="spacingAndGlyphs" fill="#111" stroke="#111" stroke-width="0.6">10</text>
<text x="1399.35" y="1051.10" font-size="14.71" textLength="12.79" lengthAdjust="spacingAndGlyphs" fill="#111" stroke="#111" stroke-width="0.6">-2</text>
<line x1="1418.80" y1="1179.60" x2="1427.80" y2="1179.60" stroke="#151515" stroke-width="1.50"/>
<text x="1369.83" y="1188.10" font-size="25.00" textLength="29.22" lengthAdjust="spacingAndGlyphs" fill="#111" stroke="#111" stroke-width="0.6">10</text>
<text x="1399.36" y="1178.30" font-size="14.71" textLength="12.67" lengthAdjust="spacingAndGlyphs" fill="#111" stroke="#111" stroke-width="0.6">-3</text>
<rect x="1436.40" y="1033.50" width="65.90" height="158.30" fill="#f5f3f2" stroke="#a3a3a3" stroke-width="2.00"/>
<line x1="1468.80" y1="838.40" x2="1468.80" y2="1033.50" stroke="#858585" stroke-width="1.90"/>
<line x1="1452.00" y1="838.40" x2="1486.00" y2="838.40" stroke="#858585" stroke-width="1.90"/>
<line x1="1436.40" y1="1191.80" x2="1502.30" y2="1191.80" stroke="#a3a3a3" stroke-width="2.20"/>
<line x1="1517.30" y1="1191.80" x2="1584.00" y2="1191.80" stroke="#a3a3a3" stroke-width="2.60"/>
<g fill="#3b9fd8" stroke="#2482bd" stroke-width="1.2"><circle cx="1471.8" cy="838.4" r="3.1"/><circle cx="1465.1" cy="889.2" r="3.1"/><circle cx="1474.3" cy="889.9" r="3.1"/><circle cx="1469.7" cy="932.7" r="3.1"/><circle cx="1464.9" cy="943.8" r="3.1"/><circle cx="1469.5" cy="942.0" r="3.1"/><circle cx="1473.4" cy="954.2" r="3.1"/><circle cx="1476.9" cy="954.2" r="3.1"/><circle cx="1462.8" cy="961.4" r="3.1"/><circle cx="1467.4" cy="968.6" r="3.1"/><circle cx="1465.8" cy="983.6" r="3.1"/><circle cx="1473.4" cy="991.8" r="3.1"/><circle cx="1462.1" cy="1012.4" r="3.1"/><circle cx="1475.0" cy="1014.5" r="3.1"/><circle cx="1465.5" cy="1028.8" r="3.1"/><circle cx="1463.2" cy="1032.8" r="3.1"/><circle cx="1460.7" cy="1034.6" r="3.1"/><circle cx="1461.2" cy="1043.4" r="3.1"/><circle cx="1472.3" cy="1045.7" r="3.1"/><circle cx="1462.3" cy="1089.4" r="3.1"/><circle cx="1469.7" cy="1096.1" r="3.1"/><circle cx="1463.9" cy="1115.5" r="3.1"/><circle cx="1465.5" cy="1123.9" r="3.1"/><circle cx="1472.3" cy="1123.9" r="3.1"/><circle cx="1462.1" cy="1155.3" r="3.1"/><circle cx="1471.8" cy="1167.3" r="3.1"/></g>
<line x1="1462.00" y1="1192.00" x2="1475.50" y2="1192.00" stroke="#3c9bd0" stroke-width="8.00" stroke-linecap="round"/>
<g fill="#e03843" stroke="#b3161f" stroke-width="1.1"><circle cx="1550.9" cy="1012.7" r="2.9"/><circle cx="1553.2" cy="1059.4" r="2.9"/></g>
<line x1="1546.00" y1="1192.00" x2="1557.00" y2="1192.00" stroke="#d3232b" stroke-width="7.60" stroke-linecap="round"/>
<text x="1406.34" y="769.70" font-size="28.14" textLength="234.91" lengthAdjust="spacingAndGlyphs" fill="#111" stroke="#111" stroke-width="0.6">Bifidobact. longum</text>
<text x="1549.62" y="1171.00" font-size="17.57" textLength="60.75" lengthAdjust="spacingAndGlyphs" fill="#111" stroke="#111" stroke-width="0.6">p=0.04</text>
<text x="1437.48" y="1230.50" font-size="21.43" textLength="54.83" lengthAdjust="spacingAndGlyphs" fill="#111" stroke="#111" stroke-width="0.6">&gt;180</text>
<text x="1523.07" y="1230.50" font-size="21.43" textLength="53.69" lengthAdjust="spacingAndGlyphs" fill="#111" stroke="#111" stroke-width="0.6">≤180</text>
<text x="1436.57" y="1257.00" font-size="21.43" textLength="151.52" lengthAdjust="spacingAndGlyphs" fill="#111" stroke="#111" stroke-width="0.6">Survival (days)</text>
<text x="-2.21" y="0" font-size="28.29" textLength="187.77" lengthAdjust="spacingAndGlyphs" fill="#111" stroke="#111" stroke-width="0.6" transform="translate(1356.00 1081.30) rotate(-90)">Rel. abundance</text>
<text x="-3.81" y="1397.50" font-size="48.57" textLength="32.64" lengthAdjust="spacingAndGlyphs" fill="#111" font-weight="bold" stroke="#111" stroke-width="1.5">C</text>
<text x="59.68" y="1405.50" font-size="31.43" textLength="132.61" lengthAdjust="spacingAndGlyphs" fill="#111" stroke="#111" stroke-width="0.6">Pathways</text>
<text x="75.18" y="1454.00" font-size="27.71" textLength="228.76" lengthAdjust="spacingAndGlyphs" fill="#111" stroke="#111" stroke-width="0.6">Survival ≤180 days</text>
<text x="354.59" y="1454.00" font-size="27.71" textLength="228.65" lengthAdjust="spacingAndGlyphs" fill="#111" stroke="#111" stroke-width="0.6">Survival &gt;180 days</text>
<line x1="162.50" y1="1472.80" x2="214.50" y2="1472.80" stroke="#111" stroke-width="1.60"/>
<path d="M159.50 1472.80 L168.00 1468.80 L165.50 1472.80 L168.00 1476.80 Z" fill="#111"/>
<line x1="434.90" y1="1471.40" x2="486.80" y2="1471.40" stroke="#111" stroke-width="1.60"/>
<path d="M489.80 1471.40 L481.30 1467.40 L483.80 1471.40 L481.30 1475.40 Z" fill="#111"/>
<line x1="269.40" y1="1494.50" x2="269.40" y2="1949.70" stroke="#777777" stroke-width="1.85" stroke-dasharray="22.5 10.8"/>
<line x1="392.80" y1="1494.50" x2="392.80" y2="1949.70" stroke="#777777" stroke-width="1.85" stroke-dasharray="22.5 10.8"/>
<line x1="97.30" y1="1694.70" x2="553.40" y2="1694.70" stroke="#777777" stroke-width="1.85" stroke-dasharray="22.5 10.8"/>
<clipPath id="cp3"><rect x="97.30" y="1485.10" width="468.10" height="464.60"/></clipPath>
<g clip-path="url(#cp3)">
<g fill="#8b8b8b" stroke="#6c6c6c" stroke-width="0.9"><circle cx="352.0" cy="1644.6" r="1.72"/><circle cx="274.3" cy="1669.5" r="1.72"/><circle cx="301.6" cy="1668.2" r="1.72"/><circle cx="352.5" cy="1672.4" r="1.72"/><circle cx="281.2" cy="1680.8" r="1.72"/><circle cx="281.5" cy="1693.6" r="1.72"/><circle cx="297.1" cy="1696.6" r="1.72"/><circle cx="268.9" cy="1710.2" r="1.72"/><circle cx="269.4" cy="1712.4" r="1.72"/><circle cx="313.7" cy="1714.5" r="1.72"/><circle cx="352.5" cy="1714.5" r="1.72"/><circle cx="274.0" cy="1727.1" r="1.72"/><circle cx="288.7" cy="1730.6" r="1.72"/><circle cx="352.5" cy="1734.4" r="1.72"/><circle cx="299.5" cy="1739.2" r="1.72"/><circle cx="354.4" cy="1748.6" r="1.72"/><circle cx="263.8" cy="1755.8" r="1.72"/><circle cx="284.7" cy="1755.8" r="1.72"/><circle cx="294.9" cy="1759.3" r="1.72"/><circle cx="298.9" cy="1760.1" r="1.72"/><circle cx="342.6" cy="1760.1" r="1.72"/><circle cx="285.5" cy="1766.0" r="1.72"/><circle cx="276.7" cy="1768.2" r="1.72"/><circle cx="291.7" cy="1774.6" r="1.72"/><circle cx="342.4" cy="1773.5" r="1.72"/><circle cx="266.8" cy="1779.4" r="1.72"/><circle cx="312.1" cy="1778.3" r="1.72"/><circle cx="239.9" cy="1784.8" r="1.72"/><circle cx="262.7" cy="1784.8" r="1.72"/><circle cx="283.4" cy="1787.5" r="1.72"/><circle cx="289.5" cy="1790.7" r="1.72"/><circle cx="285.0" cy="1792.8" r="1.72"/><circle cx="268.9" cy="1795.5" r="1.72"/><circle cx="302.4" cy="1796.0" r="1.72"/><circle cx="313.7" cy="1797.4" r="1.72"/><circle cx="346.6" cy="1797.4" r="1.72"/><circle cx="252.3" cy="1801.4" r="1.72"/><circle cx="304.3" cy="1801.7" r="1.72"/><circle cx="307.0" cy="1805.4" r="1.72"/><circle cx="326.3" cy="1806.5" r="1.72"/><circle cx="276.9" cy="1808.6" r="1.72"/><circle cx="302.9" cy="1808.6" r="1.72"/><circle cx="349.9" cy="1813.7" r="1.72"/><circle cx="348.0" cy="1815.6" r="1.72"/><circle cx="279.4" cy="1815.6" r="1.72"/><circle cx="301.1" cy="1815.6" r="1.72"/><circle cx="268.9" cy="1819.1" r="1.72"/><circle cx="284.2" cy="1821.0" r="1.72"/><circle cx="343.2" cy="1823.1" r="1.72"/><circle cx="346.6" cy="1823.9" r="1.72"/><circle cx="302.9" cy="1824.5" r="1.72"/><circle cx="319.8" cy="1826.9" r="1.72"/><circle cx="341.8" cy="1829.5" r="1.72"/><circle cx="278.0" cy="1831.7" r="1.72"/><circle cx="282.0" cy="1830.9" r="1.72"/><circle cx="286.9" cy="1829.8" r="1.72"/><circle cx="303.8" cy="1829.8" r="1.72"/><circle cx="306.4" cy="1830.3" r="1.72"/><circle cx="308.3" cy="1832.5" r="1.72"/><circle cx="311.0" cy="1832.5" r="1.72"/><circle cx="315.8" cy="1832.5" r="1.72"/><circle cx="319.0" cy="1833.8" r="1.72"/><circle cx="338.3" cy="1835.7" r="1.72"/><circle cx="302.9" cy="1838.9" r="1.72"/><circle cx="312.3" cy="1839.7" r="1.72"/><circle cx="328.4" cy="1840.5" r="1.72"/><circle cx="333.8" cy="1842.4" r="1.72"/><circle cx="344.5" cy="1839.7" r="1.72"/><circle cx="302.9" cy="1841.6" r="1.72"/><circle cx="311.8" cy="1842.4" r="1.72"/><circle cx="341.8" cy="1847.0" r="1.72"/><circle cx="348.5" cy="1848.3" r="1.72"/><circle cx="270.8" cy="1848.3" r="1.72"/><circle cx="303.8" cy="1848.3" r="1.72"/><circle cx="320.4" cy="1848.3" r="1.72"/><circle cx="339.1" cy="1851.3" r="1.72"/><circle cx="345.3" cy="1850.5" r="1.72"/><circle cx="243.4" cy="1852.3" r="1.72"/><circle cx="282.3" cy="1851.8" r="1.72"/><circle cx="289.5" cy="1852.3" r="1.72"/><circle cx="301.6" cy="1851.8" r="1.72"/><circle cx="340.5" cy="1854.5" r="1.72"/><circle cx="281.0" cy="1855.3" r="1.72"/><circle cx="313.7" cy="1855.0" r="1.72"/><circle cx="317.7" cy="1855.0" r="1.72"/><circle cx="320.4" cy="1855.0" r="1.72"/><circle cx="327.6" cy="1855.8" r="1.72"/><circle cx="344.0" cy="1855.3" r="1.72"/><circle cx="273.5" cy="1857.7" r="1.72"/><circle cx="274.8" cy="1859.8" r="1.72"/><circle cx="293.6" cy="1858.5" r="1.72"/><circle cx="297.1" cy="1859.8" r="1.72"/><circle cx="309.1" cy="1859.8" r="1.72"/><circle cx="260.9" cy="1860.6" r="1.72"/><circle cx="284.2" cy="1861.7" r="1.72"/><circle cx="288.2" cy="1862.5" r="1.72"/><circle cx="294.9" cy="1862.5" r="1.72"/><circle cx="301.6" cy="1863.9" r="1.72"/><circle cx="307.0" cy="1863.9" r="1.72"/><circle cx="312.3" cy="1861.2" r="1.72"/><circle cx="316.4" cy="1862.5" r="1.72"/><circle cx="324.4" cy="1862.5" r="1.72"/><circle cx="328.4" cy="1862.5" r="1.72"/><circle cx="264.9" cy="1865.2" r="1.72"/><circle cx="282.8" cy="1865.2" r="1.72"/><circle cx="290.3" cy="1865.7" r="1.72"/><circle cx="304.3" cy="1866.5" r="1.72"/><circle cx="311.0" cy="1866.5" r="1.72"/><circle cx="319.0" cy="1867.3" r="1.72"/><circle cx="325.7" cy="1866.5" r="1.72"/><circle cx="340.5" cy="1866.5" r="1.72"/><circle cx="347.2" cy="1865.7" r="1.72"/><circle cx="277.5" cy="1867.3" r="1.72"/><circle cx="297.6" cy="1869.2" r="1.72"/><circle cx="302.9" cy="1870.0" r="1.72"/><circle cx="308.3" cy="1870.0" r="1.72"/><circle cx="316.4" cy="1870.0" r="1.72"/><circle cx="321.7" cy="1870.0" r="1.72"/><circle cx="333.8" cy="1869.2" r="1.72"/><circle cx="341.8" cy="1870.0" r="1.72"/><circle cx="348.5" cy="1871.1" r="1.72"/><circle cx="353.9" cy="1871.1" r="1.72"/><circle cx="294.9" cy="1871.1" r="1.72"/><circle cx="312.3" cy="1872.7" r="1.72"/><circle cx="317.7" cy="1873.8" r="1.72"/><circle cx="328.4" cy="1872.7" r="1.72"/><circle cx="344.5" cy="1872.7" r="1.72"/><circle cx="286.3" cy="1873.2" r="1.72"/><circle cx="378.0" cy="1873.2" r="1.72"/><circle cx="301.6" cy="1873.8" r="1.72"/><circle cx="311.0" cy="1875.4" r="1.72"/><circle cx="321.7" cy="1875.4" r="1.72"/><circle cx="340.5" cy="1875.9" r="1.72"/><circle cx="349.9" cy="1874.6" r="1.72"/><circle cx="356.6" cy="1875.4" r="1.72"/><circle cx="293.6" cy="1877.3" r="1.72"/><circle cx="298.9" cy="1878.6" r="1.72"/><circle cx="315.0" cy="1878.1" r="1.72"/><circle cx="320.4" cy="1878.1" r="1.72"/><circle cx="332.4" cy="1878.6" r="1.72"/><circle cx="359.2" cy="1878.1" r="1.72"/><circle cx="302.9" cy="1881.3" r="1.72"/><circle cx="309.7" cy="1882.1" r="1.72"/><circle cx="317.7" cy="1881.3" r="1.72"/><circle cx="323.1" cy="1881.3" r="1.72"/><circle cx="343.2" cy="1879.9" r="1.72"/><circle cx="298.9" cy="1882.1" r="1.72"/><circle cx="321.7" cy="1884.0" r="1.72"/><circle cx="336.5" cy="1884.0" r="1.72"/><circle cx="341.8" cy="1884.5" r="1.72"/><circle cx="348.5" cy="1885.3" r="1.72"/><circle cx="353.9" cy="1884.0" r="1.72"/><circle cx="357.9" cy="1884.0" r="1.72"/><circle cx="371.3" cy="1882.6" r="1.72"/><circle cx="319.0" cy="1886.6" r="1.72"/><circle cx="324.4" cy="1886.6" r="1.72"/><circle cx="333.8" cy="1886.6" r="1.72"/><circle cx="337.8" cy="1886.6" r="1.72"/><circle cx="347.2" cy="1888.8" r="1.72"/><circle cx="312.3" cy="1892.0" r="1.72"/><circle cx="320.4" cy="1890.7" r="1.72"/><circle cx="325.7" cy="1892.0" r="1.72"/><circle cx="332.4" cy="1892.0" r="1.72"/><circle cx="344.5" cy="1890.7" r="1.72"/><circle cx="371.3" cy="1891.5" r="1.72"/><circle cx="317.7" cy="1894.7" r="1.72"/><circle cx="324.4" cy="1896.0" r="1.72"/><circle cx="327.1" cy="1894.7" r="1.72"/><circle cx="335.1" cy="1896.0" r="1.72"/><circle cx="360.1" cy="1896.8" r="1.72"/><circle cx="382.0" cy="1898.2" r="1.72"/><circle cx="319.0" cy="1900.1" r="1.72"/><circle cx="325.7" cy="1900.1" r="1.72"/><circle cx="329.8" cy="1901.4" r="1.72"/><circle cx="337.8" cy="1900.1" r="1.72"/><circle cx="321.7" cy="1904.1" r="1.72"/><circle cx="327.1" cy="1905.4" r="1.72"/><circle cx="333.8" cy="1904.1" r="1.72"/><circle cx="341.8" cy="1904.1" r="1.72"/><circle cx="353.9" cy="1905.4" r="1.72"/><circle cx="367.3" cy="1908.1" r="1.72"/><circle cx="392.8" cy="1907.6" r="1.72"/><circle cx="324.4" cy="1908.1" r="1.72"/><circle cx="331.1" cy="1908.9" r="1.72"/><circle cx="307.8" cy="1911.3" r="1.72"/><circle cx="325.7" cy="1912.1" r="1.72"/><circle cx="333.8" cy="1912.1" r="1.72"/><circle cx="340.5" cy="1910.8" r="1.72"/><circle cx="344.5" cy="1912.9" r="1.72"/><circle cx="386.1" cy="1911.3" r="1.72"/><circle cx="323.1" cy="1916.1" r="1.72"/><circle cx="328.4" cy="1916.1" r="1.72"/><circle cx="335.1" cy="1916.1" r="1.72"/><circle cx="341.8" cy="1916.1" r="1.72"/><circle cx="320.4" cy="1918.8" r="1.72"/><circle cx="309.7" cy="1920.7" r="1.72"/><circle cx="313.1" cy="1922.0" r="1.72"/><circle cx="318.5" cy="1920.7" r="1.72"/><circle cx="329.8" cy="1920.2" r="1.72"/><circle cx="336.5" cy="1920.2" r="1.72"/><circle cx="343.2" cy="1920.2" r="1.72"/><circle cx="372.7" cy="1921.0" r="1.72"/><circle cx="328.4" cy="1923.6" r="1.72"/><circle cx="333.8" cy="1924.2" r="1.72"/><circle cx="387.4" cy="1924.2" r="1.72"/><circle cx="377.5" cy="1926.3" r="1.72"/><circle cx="324.4" cy="1929.5" r="1.72"/><circle cx="329.8" cy="1929.0" r="1.72"/><circle cx="336.5" cy="1930.3" r="1.72"/><circle cx="340.5" cy="1930.3" r="1.72"/><circle cx="345.8" cy="1929.5" r="1.72"/><circle cx="351.2" cy="1928.2" r="1.72"/><circle cx="355.8" cy="1929.0" r="1.72"/><circle cx="333.8" cy="1933.6" r="1.72"/><circle cx="347.2" cy="1933.6" r="1.72"/><circle cx="320.4" cy="1934.4" r="1.72"/><circle cx="325.7" cy="1936.2" r="1.72"/><circle cx="337.8" cy="1934.9" r="1.72"/><circle cx="357.9" cy="1934.9" r="1.72"/><circle cx="371.3" cy="1934.9" r="1.72"/><circle cx="332.4" cy="1938.1" r="1.72"/><circle cx="341.8" cy="1938.1" r="1.72"/><circle cx="368.6" cy="1937.1" r="1.72"/><circle cx="324.4" cy="1941.6" r="1.72"/><circle cx="333.8" cy="1941.6" r="1.72"/><circle cx="339.1" cy="1940.3" r="1.72"/><circle cx="359.2" cy="1940.3" r="1.72"/><circle cx="375.3" cy="1940.3" r="1.72"/><circle cx="325.7" cy="1944.3" r="1.72"/><circle cx="333.8" cy="1945.6" r="1.72"/><circle cx="361.9" cy="1944.3" r="1.72"/><circle cx="370.0" cy="1944.3" r="1.72"/><circle cx="328.4" cy="1947.8" r="1.72"/><circle cx="348.0" cy="1948.3" r="1.72"/><circle cx="363.3" cy="1948.3" r="1.72"/><circle cx="419.8" cy="1904.9" r="1.72"/><circle cx="408.6" cy="1931.2" r="1.72"/><circle cx="437.8" cy="1929.3" r="1.72"/><circle cx="448.5" cy="1933.0" r="1.72"/><circle cx="497.1" cy="1926.6" r="1.72"/><circle cx="468.9" cy="1943.8" r="1.72"/><circle cx="466.8" cy="1946.4" r="1.72"/><circle cx="303.5" cy="1602.8" r="1.72"/><circle cx="326.7" cy="1867.1" r="1.72"/><circle cx="317.2" cy="1872.7" r="1.72"/><circle cx="322.7" cy="1882.5" r="1.72"/><circle cx="329.3" cy="1872.2" r="1.72"/><circle cx="315.4" cy="1880.6" r="1.72"/><circle cx="332.9" cy="1870.7" r="1.72"/><circle cx="307.3" cy="1871.9" r="1.72"/><circle cx="315.2" cy="1874.0" r="1.72"/><circle cx="307.9" cy="1866.4" r="1.72"/><circle cx="307.4" cy="1873.0" r="1.72"/><circle cx="309.9" cy="1860.3" r="1.72"/><circle cx="329.3" cy="1875.8" r="1.72"/><circle cx="322.4" cy="1865.1" r="1.72"/><circle cx="334.8" cy="1884.6" r="1.72"/><circle cx="304.0" cy="1869.3" r="1.72"/><circle cx="325.2" cy="1880.3" r="1.72"/><circle cx="332.8" cy="1871.9" r="1.72"/><circle cx="329.1" cy="1879.1" r="1.72"/><circle cx="310.4" cy="1876.7" r="1.72"/><circle cx="330.9" cy="1884.2" r="1.72"/><circle cx="317.6" cy="1876.7" r="1.72"/><circle cx="327.9" cy="1871.7" r="1.72"/><circle cx="324.6" cy="1879.2" r="1.72"/><circle cx="312.9" cy="1872.4" r="1.72"/><circle cx="317.7" cy="1882.2" r="1.72"/><circle cx="318.1" cy="1871.1" r="1.72"/><circle cx="317.0" cy="1860.5" r="1.72"/><circle cx="334.5" cy="1876.9" r="1.72"/><circle cx="313.6" cy="1864.6" r="1.72"/><circle cx="326.9" cy="1875.3" r="1.72"/><circle cx="330.1" cy="1866.4" r="1.72"/><circle cx="320.1" cy="1873.0" r="1.72"/><circle cx="309.2" cy="1875.5" r="1.72"/><circle cx="327.4" cy="1883.4" r="1.72"/><circle cx="331.0" cy="1881.1" r="1.72"/><circle cx="328.3" cy="1874.7" r="1.72"/><circle cx="319.5" cy="1872.0" r="1.72"/><circle cx="319.8" cy="1865.5" r="1.72"/><circle cx="317.5" cy="1873.7" r="1.72"/><circle cx="312.3" cy="1869.7" r="1.72"/><circle cx="318.7" cy="1877.7" r="1.72"/><circle cx="321.4" cy="1872.9" r="1.72"/><circle cx="330.1" cy="1882.8" r="1.72"/><circle cx="327.9" cy="1883.3" r="1.72"/><circle cx="323.5" cy="1862.1" r="1.72"/><circle cx="326.4" cy="1866.9" r="1.72"/><circle cx="311.9" cy="1861.7" r="1.72"/><circle cx="305.6" cy="1867.6" r="1.72"/><circle cx="324.9" cy="1872.8" r="1.72"/><circle cx="311.1" cy="1873.4" r="1.72"/><circle cx="314.6" cy="1865.1" r="1.72"/><circle cx="317.7" cy="1865.7" r="1.72"/><circle cx="321.1" cy="1883.3" r="1.72"/><circle cx="323.7" cy="1875.4" r="1.72"/><circle cx="327.9" cy="1874.6" r="1.72"/><circle cx="317.9" cy="1889.9" r="1.72"/><circle cx="332.1" cy="1916.5" r="1.72"/><circle cx="329.0" cy="1899.0" r="1.72"/><circle cx="327.9" cy="1911.2" r="1.72"/><circle cx="327.4" cy="1892.9" r="1.72"/><circle cx="324.7" cy="1902.5" r="1.72"/><circle cx="330.0" cy="1927.0" r="1.72"/><circle cx="334.1" cy="1908.7" r="1.72"/><circle cx="324.9" cy="1897.4" r="1.72"/><circle cx="325.3" cy="1899.5" r="1.72"/><circle cx="323.8" cy="1922.8" r="1.72"/><circle cx="326.4" cy="1909.3" r="1.72"/><circle cx="321.1" cy="1887.5" r="1.72"/><circle cx="322.8" cy="1892.1" r="1.72"/><circle cx="326.1" cy="1927.2" r="1.72"/><circle cx="329.1" cy="1893.9" r="1.72"/><circle cx="333.1" cy="1919.0" r="1.72"/><circle cx="330.2" cy="1923.4" r="1.72"/><circle cx="330.7" cy="1918.7" r="1.72"/><circle cx="334.4" cy="1893.1" r="1.72"/><circle cx="330.6" cy="1915.6" r="1.72"/><circle cx="325.2" cy="1908.1" r="1.72"/><circle cx="325.8" cy="1924.2" r="1.72"/><circle cx="326.0" cy="1920.4" r="1.72"/><circle cx="333.2" cy="1905.3" r="1.72"/><circle cx="327.2" cy="1924.0" r="1.72"/><circle cx="330.0" cy="1906.3" r="1.72"/><circle cx="320.9" cy="1899.7" r="1.72"/><circle cx="329.6" cy="1893.3" r="1.72"/><circle cx="333.4" cy="1897.4" r="1.72"/><circle cx="337.2" cy="1884.3" r="1.72"/><circle cx="339.9" cy="1885.4" r="1.72"/><circle cx="344.7" cy="1886.5" r="1.72"/><circle cx="347.4" cy="1885.4" r="1.72"/><circle cx="351.2" cy="1883.3" r="1.72"/><circle cx="354.4" cy="1882.7" r="1.72"/><circle cx="357.1" cy="1884.3" r="1.72"/><circle cx="359.7" cy="1884.3" r="1.72"/><circle cx="340.4" cy="1864.0" r="1.72"/><circle cx="342.0" cy="1867.2" r="1.72"/><circle cx="343.6" cy="1870.4" r="1.72"/><circle cx="344.7" cy="1873.6" r="1.72"/><circle cx="342.6" cy="1877.9" r="1.72"/><circle cx="340.4" cy="1879.0" r="1.72"/><circle cx="347.9" cy="1871.5" r="1.72"/><circle cx="352.2" cy="1871.5" r="1.72"/><circle cx="356.5" cy="1873.1" r="1.72"/><circle cx="335.1" cy="1894.0" r="1.72"/><circle cx="336.7" cy="1897.2" r="1.72"/><circle cx="338.8" cy="1899.9" r="1.72"/><circle cx="341.0" cy="1903.1" r="1.72"/><circle cx="342.0" cy="1905.3" r="1.72"/><circle cx="339.4" cy="1909.0" r="1.72"/><circle cx="341.5" cy="1911.2" r="1.72"/><circle cx="344.7" cy="1911.7" r="1.72"/><circle cx="347.4" cy="1913.3" r="1.72"/><circle cx="323.3" cy="1929.4" r="1.72"/><circle cx="326.5" cy="1929.4" r="1.72"/><circle cx="337.2" cy="1932.1" r="1.72"/><circle cx="340.4" cy="1931.5" r="1.72"/><circle cx="344.7" cy="1929.4" r="1.72"/><circle cx="345.8" cy="1931.5" r="1.72"/><circle cx="354.4" cy="1927.8" r="1.72"/><circle cx="355.4" cy="1930.5" r="1.72"/><circle cx="343.1" cy="1846.8" r="1.72"/><circle cx="345.8" cy="1848.4" r="1.72"/><circle cx="349.0" cy="1849.0" r="1.72"/><circle cx="339.9" cy="1850.6" r="1.72"/><circle cx="342.0" cy="1853.2" r="1.72"/><circle cx="344.7" cy="1855.4" r="1.72"/><circle cx="302.9" cy="1830.2" r="1.72"/><circle cx="305.0" cy="1830.2" r="1.72"/><circle cx="307.2" cy="1831.3" r="1.72"/><circle cx="304.5" cy="1832.9" r="1.72"/><circle cx="279.2" cy="1864.0" r="1.72"/><circle cx="283.3" cy="1864.9" r="1.72"/><circle cx="291.3" cy="1857.4" r="1.72"/><circle cx="279.9" cy="1859.7" r="1.72"/><circle cx="302.8" cy="1863.0" r="1.72"/><circle cx="297.8" cy="1863.1" r="1.72"/><circle cx="291.7" cy="1858.6" r="1.72"/><circle cx="291.5" cy="1868.6" r="1.72"/><circle cx="288.1" cy="1866.8" r="1.72"/><circle cx="292.7" cy="1857.4" r="1.72"/><circle cx="295.4" cy="1864.7" r="1.72"/><circle cx="281.2" cy="1856.9" r="1.72"/><circle cx="298.7" cy="1863.1" r="1.72"/><circle cx="294.2" cy="1868.7" r="1.72"/></g>
</g>
<g fill="#de303a" stroke="#b4181f" stroke-width="1.1"><circle cx="109.4" cy="1505.0" r="2.9"/><circle cx="240.5" cy="1641.4" r="2.9"/><circle cx="266.8" cy="1687.5" r="2.9"/></g>
<line x1="331.40" y1="1485.10" x2="331.40" y2="1949.70" stroke="#151515" stroke-width="2.10"/>
<rect x="97.30" y="1485.10" width="468.10" height="464.60" fill="none" stroke="#151515" stroke-width="2.10"/>
<line x1="145.60" y1="1949.70" x2="145.60" y2="1953.20" stroke="#151515" stroke-width="1.60"/>
<text x="133.89" y="1979.00" font-size="28.00" textLength="23.40" lengthAdjust="spacingAndGlyphs" fill="#111" stroke="#111" stroke-width="0.6">-3</text>
<line x1="207.20" y1="1949.70" x2="207.20" y2="1953.20" stroke="#151515" stroke-width="1.60"/>
<text x="195.59" y="1979.00" font-size="28.00" textLength="23.40" lengthAdjust="spacingAndGlyphs" fill="#111" stroke="#111" stroke-width="0.6">-2</text>
<line x1="268.90" y1="1949.70" x2="268.90" y2="1953.20" stroke="#151515" stroke-width="1.60"/>
<text x="257.25" y="1979.00" font-size="28.00" textLength="23.40" lengthAdjust="spacingAndGlyphs" fill="#111" stroke="#111" stroke-width="0.6">-1</text>
<line x1="331.40" y1="1949.70" x2="331.40" y2="1953.20" stroke="#151515" stroke-width="1.60"/>
<text x="327.13" y="1979.00" font-size="28.00" textLength="13.70" lengthAdjust="spacingAndGlyphs" fill="#111" stroke="#111" stroke-width="0.6">0</text>
<line x1="392.80" y1="1949.70" x2="392.80" y2="1953.20" stroke="#151515" stroke-width="1.60"/>
<text x="386.42" y="1979.00" font-size="28.00" textLength="13.70" lengthAdjust="spacingAndGlyphs" fill="#111" stroke="#111" stroke-width="0.6">1</text>
<line x1="454.20" y1="1949.70" x2="454.20" y2="1953.20" stroke="#151515" stroke-width="1.60"/>
<text x="447.36" y="1979.00" font-size="28.00" textLength="13.70" lengthAdjust="spacingAndGlyphs" fill="#111" stroke="#111" stroke-width="0.6">2</text>
<line x1="516.00" y1="1949.70" x2="516.00" y2="1953.20" stroke="#151515" stroke-width="1.60"/>
<text x="509.22" y="1979.00" font-size="28.00" textLength="13.70" lengthAdjust="spacingAndGlyphs" fill="#111" stroke="#111" stroke-width="0.6">3</text>
<line x1="94.10" y1="1949.70" x2="97.30" y2="1949.70" stroke="#151515" stroke-width="1.60"/>
<text x="75.99" y="1958.10" font-size="26.57" textLength="13.45" lengthAdjust="spacingAndGlyphs" fill="#111" stroke="#111" stroke-width="0.6">0</text>
<line x1="94.10" y1="1851.80" x2="97.30" y2="1851.80" stroke="#151515" stroke-width="1.60"/>
<text x="55.86" y="1860.20" font-size="26.57" textLength="33.61" lengthAdjust="spacingAndGlyphs" fill="#111" stroke="#111" stroke-width="0.6">0.5</text>
<line x1="94.10" y1="1753.10" x2="97.30" y2="1753.10" stroke="#151515" stroke-width="1.60"/>
<text x="55.80" y="1761.50" font-size="26.57" textLength="33.61" lengthAdjust="spacingAndGlyphs" fill="#111" stroke="#111" stroke-width="0.6">1.0</text>
<line x1="94.10" y1="1655.00" x2="97.30" y2="1655.00" stroke="#151515" stroke-width="1.60"/>
<text x="55.86" y="1663.40" font-size="26.57" textLength="33.61" lengthAdjust="spacingAndGlyphs" fill="#111" stroke="#111" stroke-width="0.6">1.5</text>
<line x1="94.10" y1="1557.80" x2="97.30" y2="1557.80" stroke="#151515" stroke-width="1.60"/>
<text x="55.80" y="1566.20" font-size="26.57" textLength="33.61" lengthAdjust="spacingAndGlyphs" fill="#111" stroke="#111" stroke-width="0.6">2.0</text>
<text x="211.06" y="2016.70" font-size="30.71" textLength="247.14" lengthAdjust="spacingAndGlyphs" fill="#111" stroke="#111" stroke-width="0.6">Log2 fold-change</text>
<text x="-1.24" y="0" font-size="27.71" textLength="153.08" lengthAdjust="spacingAndGlyphs" fill="#111" stroke="#111" stroke-width="0.6" transform="translate(33.00 1785.70) rotate(-90)">-Log10 p-val</text>
<rect x="1128.20" y="1511.00" width="64.40" height="93.40" fill="#2b6aa2"/>
<rect x="1102.00" y="1629.00" width="90.60" height="93.90" fill="#2b6aa2"/>
<rect x="970.20" y="1746.60" width="222.40" height="93.90" fill="#2b6aa2"/>
<rect x="958.60" y="1494.70" width="234.00" height="362.80" fill="none" stroke="#151515" stroke-width="2.00"/>
<line x1="1007.20" y1="1857.50" x2="1007.20" y2="1860.50" stroke="#151515" stroke-width="1.20"/>
<text x="987.30" y="1882.00" font-size="23.71" textLength="39.64" lengthAdjust="spacingAndGlyphs" fill="#111" stroke="#111" stroke-width="0.6">-3.0</text>
<line x1="1068.30" y1="1857.50" x2="1068.30" y2="1860.50" stroke="#151515" stroke-width="1.20"/>
<text x="1048.40" y="1882.00" font-size="23.71" textLength="39.64" lengthAdjust="spacingAndGlyphs" fill="#111" stroke="#111" stroke-width="0.6">-2.0</text>
<line x1="1129.80" y1="1857.50" x2="1129.80" y2="1860.50" stroke="#151515" stroke-width="1.20"/>
<text x="1109.90" y="1882.00" font-size="23.71" textLength="39.64" lengthAdjust="spacingAndGlyphs" fill="#111" stroke="#111" stroke-width="0.6">-1.0</text>
<line x1="1191.20" y1="1857.50" x2="1191.20" y2="1860.50" stroke="#151515" stroke-width="1.20"/>
<text x="1185.38" y="1882.00" font-size="23.71" textLength="11.61" lengthAdjust="spacingAndGlyphs" fill="#111" stroke="#111" stroke-width="0.6">0</text>
<text x="963.18" y="1456.10" font-size="27.71" textLength="228.66" lengthAdjust="spacingAndGlyphs" fill="#111" stroke="#111" stroke-width="0.6">Survival ≤180 days</text>
<line x1="1051.00" y1="1479.00" x2="1102.80" y2="1479.00" stroke="#111" stroke-width="1.60"/>
<path d="M1048.00 1479.00 L1056.50 1475.00 L1054.00 1479.00 L1056.50 1483.00 Z" fill="#111"/>
<text x="844.95" y="1557.50" font-size="24.29" textLength="103.17" lengthAdjust="spacingAndGlyphs" fill="#111" stroke="#111" stroke-width="0.6">P42-PWY:</text>
<text x="620.71" y="1582.80" font-size="24.29" textLength="331.42" lengthAdjust="spacingAndGlyphs" fill="#111" stroke="#111" stroke-width="0.6">Incomplete reductive TCA cycle</text>
<text x="835.82" y="1676.30" font-size="24.29" textLength="114.41" lengthAdjust="spacingAndGlyphs" fill="#111" stroke="#111" stroke-width="0.6">PWY-5910:</text>
<text x="678.61" y="1701.30" font-size="24.29" textLength="276.75" lengthAdjust="spacingAndGlyphs" fill="#111" stroke="#111" stroke-width="0.6">Geranyl-diphosph. biosyn.</text>
<text x="835.01" y="1792.70" font-size="24.29" textLength="115.24" lengthAdjust="spacingAndGlyphs" fill="#111" stroke="#111" stroke-width="0.6">PWY-5265:</text>
<text x="723.95" y="1817.60" font-size="24.29" textLength="230.25" lengthAdjust="spacingAndGlyphs" fill="#111" stroke="#111" stroke-width="0.6">Peptidoglyc. biosyn. II</text>
<line x1="954.60" y1="1557.50" x2="958.60" y2="1557.50" stroke="#151515" stroke-width="1.30"/>
<line x1="954.60" y1="1676.00" x2="958.60" y2="1676.00" stroke="#151515" stroke-width="1.30"/>
<line x1="954.60" y1="1793.50" x2="958.60" y2="1793.50" stroke="#151515" stroke-width="1.30"/>
<text x="971.69" y="1910.30" font-size="27.14" textLength="216.74" lengthAdjust="spacingAndGlyphs" fill="#111" stroke="#111" stroke-width="0.6">Log2 fold-change</text>
<line x1="1427.10" y1="1495.30" x2="1427.10" y2="1903.40" stroke="#151515" stroke-width="2.10"/>
<line x1="1426.10" y1="1902.40" x2="1592.50" y2="1902.40" stroke="#151515" stroke-width="2.10"/>
<line x1="1418.10" y1="1495.30" x2="1427.10" y2="1495.30" stroke="#151515" stroke-width="1.50"/>
<text x="1398.04" y="1507.80" font-size="25.71" textLength="11.57" lengthAdjust="spacingAndGlyphs" fill="#111" stroke="#111" stroke-width="0.6">1</text>
<line x1="1418.10" y1="1592.40" x2="1427.10" y2="1592.40" stroke="#151515" stroke-width="1.50"/>
<text x="1369.13" y="1600.90" font-size="25.00" textLength="29.22" lengthAdjust="spacingAndGlyphs" fill="#111" stroke="#111" stroke-width="0.6">10</text>
<text x="1398.65" y="1591.10" font-size="14.71" textLength="12.75" lengthAdjust="spacingAndGlyphs" fill="#111" stroke="#111" stroke-width="0.6">-1</text>
<line x1="1418.10" y1="1689.70" x2="1427.10" y2="1689.70" stroke="#151515" stroke-width="1.50"/>
<text x="1369.13" y="1698.20" font-size="25.00" textLength="29.22" lengthAdjust="spacingAndGlyphs" fill="#111" stroke="#111" stroke-width="0.6">10</text>
<text x="1398.65" y="1688.40" font-size="14.71" textLength="12.79" lengthAdjust="spacingAndGlyphs" fill="#111" stroke="#111" stroke-width="0.6">-2</text>
<line x1="1418.10" y1="1786.40" x2="1427.10" y2="1786.40" stroke="#151515" stroke-width="1.50"/>
<text x="1369.13" y="1794.90" font-size="25.00" textLength="29.22" lengthAdjust="spacingAndGlyphs" fill="#111" stroke="#111" stroke-width="0.6">10</text>
<text x="1398.66" y="1785.10" font-size="14.71" textLength="12.67" lengthAdjust="spacingAndGlyphs" fill="#111" stroke="#111" stroke-width="0.6">-3</text>
<line x1="1418.10" y1="1883.50" x2="1427.10" y2="1883.50" stroke="#151515" stroke-width="1.50"/>
<text x="1369.13" y="1892.00" font-size="25.00" textLength="29.22" lengthAdjust="spacingAndGlyphs" fill="#111" stroke="#111" stroke-width="0.6">10</text>
<text x="1398.60" y="1882.20" font-size="14.71" textLength="13.75" lengthAdjust="spacingAndGlyphs" fill="#111" stroke="#111" stroke-width="0.6">-4</text>
<line x1="1435.70" y1="1884.00" x2="1502.30" y2="1884.00" stroke="#a3a3a3" stroke-width="2.60"/>
<rect x="1517.80" y="1798.00" width="66.20" height="86.40" fill="#f5f3f2" stroke="#a3a3a3" stroke-width="2.00"/>
<line x1="1550.90" y1="1703.10" x2="1550.90" y2="1798.00" stroke="#858585" stroke-width="1.90"/>
<line x1="1534.00" y1="1703.10" x2="1567.70" y2="1703.10" stroke="#858585" stroke-width="1.90"/>
<g fill="#3b9fd8" stroke="#2482bd" stroke-width="1.2"><circle cx="1462.5" cy="1761.8" r="3.1"/></g>
<line x1="1462.00" y1="1884.00" x2="1475.50" y2="1884.00" stroke="#3c9bd0" stroke-width="8.00" stroke-linecap="round"/>
<g fill="#e03843" stroke="#b3161f" stroke-width="1.1"><circle cx="1550.9" cy="1703.1" r="2.9"/><circle cx="1555.5" cy="1708.2" r="2.9"/><circle cx="1557.3" cy="1728.8" r="2.9"/><circle cx="1549.0" cy="1797.9" r="2.9"/></g>
<line x1="1545.00" y1="1884.00" x2="1558.00" y2="1884.00" stroke="#d3232b" stroke-width="7.60" stroke-linecap="round"/>
<text x="1386.42" y="1443.50" font-size="22.43" textLength="114.41" lengthAdjust="spacingAndGlyphs" fill="#111" stroke="#111" stroke-width="0.6">PWY-5265:</text>
<text x="1386.35" y="1468.70" font-size="22.43" textLength="229.84" lengthAdjust="spacingAndGlyphs" fill="#111" stroke="#111" stroke-width="0.6">Peptidoglyc. biosyn. II</text>
<text x="1543.13" y="1672.40" font-size="17.57" textLength="70.95" lengthAdjust="spacingAndGlyphs" fill="#111" stroke="#111" stroke-width="0.6">p=0.005</text>
<text x="1434.11" y="1929.20" font-size="21.43" textLength="53.58" lengthAdjust="spacingAndGlyphs" fill="#111" stroke="#111" stroke-width="0.6">&gt;180</text>
<text x="1523.07" y="1929.20" font-size="21.43" textLength="53.69" lengthAdjust="spacingAndGlyphs" fill="#111" stroke="#111" stroke-width="0.6">≤180</text>
<text x="1432.97" y="1955.00" font-size="21.43" textLength="150.91" lengthAdjust="spacingAndGlyphs" fill="#111" stroke="#111" stroke-width="0.6">Survival (days)</text>
<text x="-2.21" y="0" font-size="28.29" textLength="187.36" lengthAdjust="spacingAndGlyphs" fill="#111" stroke="#111" stroke-width="0.6" transform="translate(1348.70 1787.50) rotate(-90)">Rel. abundance</text>
<text x="-6.75" y="2089.30" font-size="50.00" textLength="40.09" lengthAdjust="spacingAndGlyphs" fill="#111" font-weight="bold" stroke="#111" stroke-width="1.5">D</text>
<text x="57.76" y="2097.60" font-size="31.43" textLength="133.64" lengthAdjust="spacingAndGlyphs" fill="#111" stroke="#111" stroke-width="0.6">Pathways</text>
<text x="249.76" y="2108.30" font-size="27.14" textLength="144.97" lengthAdjust="spacingAndGlyphs" fill="#111" stroke="#111" stroke-width="0.6">Progression</text>
<text x="104.18" y="2144.70" font-size="27.14" textLength="210.93" lengthAdjust="spacingAndGlyphs" fill="#111" stroke="#111" stroke-width="0.6">None | &gt;180 days</text>
<text x="372.89" y="2148.00" font-size="27.14" textLength="124.56" lengthAdjust="spacingAndGlyphs" fill="#111" stroke="#111" stroke-width="0.6">≤180 days</text>
<line x1="153.70" y1="2163.20" x2="205.10" y2="2163.20" stroke="#111" stroke-width="1.60"/>
<path d="M150.70 2163.20 L159.20 2159.20 L156.70 2163.20 L159.20 2167.20 Z" fill="#111"/>
<line x1="409.10" y1="2162.40" x2="461.10" y2="2162.40" stroke="#111" stroke-width="1.60"/>
<path d="M464.10 2162.40 L455.60 2158.40 L458.10 2162.40 L455.60 2166.40 Z" fill="#111"/>
<line x1="244.80" y1="2188.20" x2="244.80" y2="2643.50" stroke="#777777" stroke-width="1.85" stroke-dasharray="22.5 10.8"/>
<line x1="406.70" y1="2188.20" x2="406.70" y2="2643.50" stroke="#777777" stroke-width="1.85" stroke-dasharray="22.5 10.8"/>
<line x1="92.00" y1="2381.80" x2="548.00" y2="2381.80" stroke="#777777" stroke-width="1.85" stroke-dasharray="22.5 10.8"/>
<clipPath id="cp4"><rect x="92.00" y="2178.80" width="467.50" height="464.70"/></clipPath>
<g clip-path="url(#cp4)">
<g fill="#8b8b8b" stroke="#6c6c6c" stroke-width="0.9"><circle cx="299.7" cy="2199.4" r="1.72"/><circle cx="298.9" cy="2279.3" r="1.72"/><circle cx="304.8" cy="2279.3" r="1.72"/><circle cx="302.4" cy="2295.4" r="1.72"/><circle cx="301.6" cy="2302.7" r="1.72"/><circle cx="312.1" cy="2311.5" r="1.72"/><circle cx="302.4" cy="2316.1" r="1.72"/><circle cx="298.4" cy="2320.3" r="1.72"/><circle cx="311.0" cy="2333.8" r="1.72"/><circle cx="307.0" cy="2342.3" r="1.72"/><circle cx="305.1" cy="2352.5" r="1.72"/><circle cx="305.9" cy="2355.2" r="1.72"/><circle cx="311.3" cy="2363.8" r="1.72"/><circle cx="329.2" cy="2357.9" r="1.72"/><circle cx="370.0" cy="2359.2" r="1.72"/><circle cx="387.9" cy="2336.7" r="1.72"/><circle cx="398.7" cy="2256.5" r="1.72"/><circle cx="307.8" cy="2381.3" r="1.72"/><circle cx="382.0" cy="2378.0" r="1.72"/><circle cx="304.3" cy="2388.0" r="1.72"/><circle cx="357.9" cy="2383.9" r="1.72"/><circle cx="383.9" cy="2391.4" r="1.72"/><circle cx="308.3" cy="2399.5" r="1.72"/><circle cx="363.3" cy="2396.0" r="1.72"/><circle cx="362.7" cy="2401.6" r="1.72"/><circle cx="367.3" cy="2403.5" r="1.72"/><circle cx="311.0" cy="2406.2" r="1.72"/><circle cx="345.8" cy="2409.4" r="1.72"/><circle cx="312.3" cy="2410.2" r="1.72"/><circle cx="314.2" cy="2414.8" r="1.72"/><circle cx="366.0" cy="2416.9" r="1.72"/><circle cx="382.8" cy="2416.9" r="1.72"/><circle cx="377.5" cy="2421.7" r="1.72"/><circle cx="383.9" cy="2424.4" r="1.72"/><circle cx="342.4" cy="2429.5" r="1.72"/><circle cx="370.8" cy="2430.9" r="1.72"/><circle cx="398.7" cy="2431.7" r="1.72"/><circle cx="294.9" cy="2437.6" r="1.72"/><circle cx="337.3" cy="2445.9" r="1.72"/><circle cx="347.7" cy="2449.9" r="1.72"/><circle cx="351.2" cy="2450.4" r="1.72"/><circle cx="354.4" cy="2450.4" r="1.72"/><circle cx="357.4" cy="2449.9" r="1.72"/><circle cx="320.4" cy="2459.8" r="1.72"/><circle cx="327.1" cy="2459.8" r="1.72"/><circle cx="329.2" cy="2461.7" r="1.72"/><circle cx="301.6" cy="2461.7" r="1.72"/><circle cx="312.9" cy="2463.0" r="1.72"/><circle cx="307.8" cy="2465.2" r="1.72"/><circle cx="332.4" cy="2465.2" r="1.72"/><circle cx="336.5" cy="2464.4" r="1.72"/><circle cx="340.5" cy="2464.4" r="1.72"/><circle cx="348.0" cy="2459.8" r="1.72"/><circle cx="353.9" cy="2459.8" r="1.72"/><circle cx="357.9" cy="2462.5" r="1.72"/><circle cx="364.1" cy="2459.8" r="1.72"/><circle cx="370.8" cy="2457.9" r="1.72"/><circle cx="378.0" cy="2457.9" r="1.72"/><circle cx="396.8" cy="2457.1" r="1.72"/><circle cx="344.5" cy="2465.2" r="1.72"/><circle cx="348.5" cy="2466.0" r="1.72"/><circle cx="352.5" cy="2464.4" r="1.72"/><circle cx="356.6" cy="2465.2" r="1.72"/><circle cx="360.6" cy="2466.5" r="1.72"/><circle cx="370.0" cy="2462.5" r="1.72"/><circle cx="375.3" cy="2464.4" r="1.72"/><circle cx="312.3" cy="2467.9" r="1.72"/><circle cx="329.8" cy="2467.9" r="1.72"/><circle cx="333.8" cy="2467.9" r="1.72"/><circle cx="353.9" cy="2469.2" r="1.72"/><circle cx="361.9" cy="2468.7" r="1.72"/><circle cx="366.0" cy="2469.7" r="1.72"/><circle cx="388.2" cy="2467.1" r="1.72"/><circle cx="392.0" cy="2469.7" r="1.72"/><circle cx="377.5" cy="2471.3" r="1.72"/><circle cx="383.9" cy="2471.3" r="1.72"/><circle cx="329.8" cy="2471.9" r="1.72"/><circle cx="318.5" cy="2474.6" r="1.72"/><circle cx="300.8" cy="2476.4" r="1.72"/><circle cx="331.6" cy="2477.2" r="1.72"/><circle cx="348.5" cy="2476.4" r="1.72"/><circle cx="352.5" cy="2476.4" r="1.72"/><circle cx="361.9" cy="2478.6" r="1.72"/><circle cx="371.3" cy="2474.6" r="1.72"/><circle cx="383.4" cy="2475.9" r="1.72"/><circle cx="289.0" cy="2479.1" r="1.72"/><circle cx="296.8" cy="2479.1" r="1.72"/><circle cx="306.2" cy="2479.9" r="1.72"/><circle cx="356.6" cy="2480.5" r="1.72"/><circle cx="378.0" cy="2482.6" r="1.72"/><circle cx="388.7" cy="2480.5" r="1.72"/><circle cx="396.8" cy="2478.6" r="1.72"/><circle cx="277.5" cy="2484.7" r="1.72"/><circle cx="284.2" cy="2487.4" r="1.72"/><circle cx="312.3" cy="2487.4" r="1.72"/><circle cx="314.5" cy="2489.3" r="1.72"/><circle cx="336.5" cy="2485.3" r="1.72"/><circle cx="340.5" cy="2482.6" r="1.72"/><circle cx="344.0" cy="2482.1" r="1.72"/><circle cx="357.9" cy="2483.9" r="1.72"/><circle cx="372.7" cy="2486.6" r="1.72"/><circle cx="379.4" cy="2486.6" r="1.72"/><circle cx="390.1" cy="2485.3" r="1.72"/><circle cx="394.1" cy="2485.3" r="1.72"/><circle cx="308.8" cy="2492.0" r="1.72"/><circle cx="335.1" cy="2490.6" r="1.72"/><circle cx="349.9" cy="2489.3" r="1.72"/><circle cx="359.2" cy="2492.0" r="1.72"/><circle cx="369.4" cy="2490.6" r="1.72"/><circle cx="387.4" cy="2492.8" r="1.72"/><circle cx="392.0" cy="2493.3" r="1.72"/><circle cx="396.8" cy="2492.0" r="1.72"/><circle cx="301.1" cy="2496.8" r="1.72"/><circle cx="303.5" cy="2496.8" r="1.72"/><circle cx="337.0" cy="2496.0" r="1.72"/><circle cx="375.9" cy="2496.0" r="1.72"/><circle cx="382.0" cy="2496.5" r="1.72"/><circle cx="387.4" cy="2498.2" r="1.72"/><circle cx="318.2" cy="2498.7" r="1.72"/><circle cx="339.1" cy="2498.7" r="1.72"/><circle cx="341.8" cy="2500.8" r="1.72"/><circle cx="347.2" cy="2501.4" r="1.72"/><circle cx="371.3" cy="2500.8" r="1.72"/><circle cx="380.7" cy="2502.7" r="1.72"/><circle cx="386.1" cy="2501.9" r="1.72"/><circle cx="390.1" cy="2500.8" r="1.72"/><circle cx="272.9" cy="2502.7" r="1.72"/><circle cx="311.8" cy="2503.5" r="1.72"/><circle cx="318.5" cy="2504.0" r="1.72"/><circle cx="331.1" cy="2502.7" r="1.72"/><circle cx="296.2" cy="2505.9" r="1.72"/><circle cx="305.1" cy="2508.1" r="1.72"/><circle cx="282.8" cy="2507.5" r="1.72"/><circle cx="317.7" cy="2508.1" r="1.72"/><circle cx="332.4" cy="2506.2" r="1.72"/><circle cx="364.6" cy="2509.4" r="1.72"/><circle cx="370.0" cy="2508.1" r="1.72"/><circle cx="386.1" cy="2508.9" r="1.72"/><circle cx="394.1" cy="2509.4" r="1.72"/><circle cx="337.0" cy="2510.2" r="1.72"/><circle cx="358.7" cy="2510.8" r="1.72"/><circle cx="367.3" cy="2512.1" r="1.72"/><circle cx="374.0" cy="2512.6" r="1.72"/><circle cx="380.7" cy="2513.4" r="1.72"/><circle cx="387.4" cy="2514.8" r="1.72"/><circle cx="398.1" cy="2513.4" r="1.72"/><circle cx="308.3" cy="2514.8" r="1.72"/><circle cx="314.2" cy="2514.8" r="1.72"/><circle cx="205.9" cy="2514.8" r="1.72"/><circle cx="276.1" cy="2518.3" r="1.72"/><circle cx="278.8" cy="2516.9" r="1.72"/><circle cx="283.6" cy="2517.5" r="1.72"/><circle cx="333.8" cy="2518.8" r="1.72"/><circle cx="340.5" cy="2520.1" r="1.72"/><circle cx="354.4" cy="2517.5" r="1.72"/><circle cx="360.6" cy="2519.6" r="1.72"/><circle cx="374.0" cy="2518.8" r="1.72"/><circle cx="380.7" cy="2517.5" r="1.72"/><circle cx="386.1" cy="2516.1" r="1.72"/><circle cx="312.3" cy="2520.1" r="1.72"/><circle cx="300.8" cy="2524.2" r="1.72"/><circle cx="305.6" cy="2522.8" r="1.72"/><circle cx="339.9" cy="2524.2" r="1.72"/><circle cx="345.8" cy="2526.8" r="1.72"/><circle cx="356.6" cy="2521.5" r="1.72"/><circle cx="363.3" cy="2522.8" r="1.72"/><circle cx="366.8" cy="2525.5" r="1.72"/><circle cx="372.7" cy="2521.5" r="1.72"/><circle cx="386.1" cy="2524.2" r="1.72"/><circle cx="391.4" cy="2524.2" r="1.72"/><circle cx="340.5" cy="2528.2" r="1.72"/><circle cx="353.1" cy="2527.6" r="1.72"/><circle cx="379.4" cy="2526.8" r="1.72"/><circle cx="390.1" cy="2529.5" r="1.72"/><circle cx="343.7" cy="2530.9" r="1.72"/><circle cx="315.0" cy="2531.7" r="1.72"/><circle cx="317.7" cy="2531.7" r="1.72"/><circle cx="300.3" cy="2533.0" r="1.72"/><circle cx="339.1" cy="2534.1" r="1.72"/><circle cx="357.9" cy="2536.8" r="1.72"/><circle cx="308.3" cy="2540.2" r="1.72"/><circle cx="312.3" cy="2540.2" r="1.72"/><circle cx="296.8" cy="2541.6" r="1.72"/><circle cx="257.9" cy="2539.7" r="1.72"/><circle cx="331.1" cy="2542.4" r="1.72"/><circle cx="367.3" cy="2543.7" r="1.72"/><circle cx="309.1" cy="2545.6" r="1.72"/><circle cx="313.7" cy="2545.6" r="1.72"/><circle cx="341.0" cy="2546.9" r="1.72"/><circle cx="364.6" cy="2548.3" r="1.72"/><circle cx="290.3" cy="2548.3" r="1.72"/><circle cx="309.7" cy="2552.3" r="1.72"/><circle cx="360.1" cy="2553.1" r="1.72"/><circle cx="232.4" cy="2552.8" r="1.72"/><circle cx="355.2" cy="2555.8" r="1.72"/><circle cx="333.8" cy="2557.7" r="1.72"/><circle cx="314.2" cy="2559.0" r="1.72"/><circle cx="319.0" cy="2559.0" r="1.72"/><circle cx="290.1" cy="2562.5" r="1.72"/><circle cx="315.0" cy="2563.0" r="1.72"/><circle cx="349.9" cy="2563.0" r="1.72"/><circle cx="357.1" cy="2565.7" r="1.72"/><circle cx="370.0" cy="2564.4" r="1.72"/><circle cx="320.4" cy="2565.7" r="1.72"/><circle cx="338.3" cy="2567.1" r="1.72"/><circle cx="341.8" cy="2567.1" r="1.72"/><circle cx="287.4" cy="2568.4" r="1.72"/><circle cx="336.5" cy="2569.7" r="1.72"/><circle cx="320.4" cy="2572.4" r="1.72"/><circle cx="315.8" cy="2575.1" r="1.72"/><circle cx="319.0" cy="2575.1" r="1.72"/><circle cx="335.1" cy="2576.4" r="1.72"/><circle cx="339.9" cy="2575.1" r="1.72"/><circle cx="323.1" cy="2577.8" r="1.72"/><circle cx="266.8" cy="2581.8" r="1.72"/><circle cx="311.0" cy="2581.8" r="1.72"/><circle cx="305.6" cy="2583.7" r="1.72"/><circle cx="289.0" cy="2584.5" r="1.72"/><circle cx="328.4" cy="2583.1" r="1.72"/><circle cx="360.6" cy="2581.8" r="1.72"/><circle cx="355.2" cy="2584.5" r="1.72"/><circle cx="317.7" cy="2585.8" r="1.72"/><circle cx="339.1" cy="2585.8" r="1.72"/><circle cx="347.7" cy="2585.8" r="1.72"/><circle cx="298.9" cy="2588.5" r="1.72"/><circle cx="313.7" cy="2589.3" r="1.72"/><circle cx="326.5" cy="2589.3" r="1.72"/><circle cx="341.8" cy="2589.8" r="1.72"/><circle cx="347.7" cy="2589.8" r="1.72"/><circle cx="271.3" cy="2591.2" r="1.72"/><circle cx="313.7" cy="2592.5" r="1.72"/><circle cx="319.0" cy="2592.5" r="1.72"/><circle cx="339.1" cy="2593.1" r="1.72"/><circle cx="343.2" cy="2593.1" r="1.72"/><circle cx="264.1" cy="2597.1" r="1.72"/><circle cx="298.1" cy="2597.9" r="1.72"/><circle cx="315.8" cy="2595.2" r="1.72"/><circle cx="334.6" cy="2597.9" r="1.72"/><circle cx="340.5" cy="2597.3" r="1.72"/><circle cx="317.7" cy="2601.9" r="1.72"/><circle cx="325.7" cy="2600.6" r="1.72"/><circle cx="339.9" cy="2601.1" r="1.72"/><circle cx="329.2" cy="2605.9" r="1.72"/><circle cx="333.8" cy="2607.3" r="1.72"/><circle cx="357.4" cy="2606.7" r="1.72"/><circle cx="307.8" cy="2610.5" r="1.72"/><circle cx="316.4" cy="2610.5" r="1.72"/><circle cx="331.1" cy="2609.9" r="1.72"/><circle cx="338.3" cy="2608.6" r="1.72"/><circle cx="323.1" cy="2612.1" r="1.72"/><circle cx="236.7" cy="2617.5" r="1.72"/><circle cx="288.7" cy="2616.1" r="1.72"/><circle cx="335.1" cy="2615.3" r="1.72"/><circle cx="341.8" cy="2615.3" r="1.72"/><circle cx="317.7" cy="2619.3" r="1.72"/><circle cx="332.4" cy="2618.0" r="1.72"/><circle cx="256.6" cy="2621.2" r="1.72"/><circle cx="280.2" cy="2622.0" r="1.72"/><circle cx="319.6" cy="2624.7" r="1.72"/><circle cx="326.5" cy="2623.4" r="1.72"/><circle cx="268.9" cy="2628.2" r="1.72"/><circle cx="273.5" cy="2628.7" r="1.72"/><circle cx="331.1" cy="2627.9" r="1.72"/><circle cx="335.1" cy="2628.7" r="1.72"/><circle cx="339.9" cy="2630.6" r="1.72"/><circle cx="278.8" cy="2633.3" r="1.72"/><circle cx="314.5" cy="2633.3" r="1.72"/><circle cx="319.0" cy="2632.7" r="1.72"/><circle cx="328.4" cy="2632.7" r="1.72"/><circle cx="332.4" cy="2635.4" r="1.72"/><circle cx="329.2" cy="2638.1" r="1.72"/><circle cx="339.1" cy="2638.1" r="1.72"/><circle cx="304.3" cy="2641.3" r="1.72"/><circle cx="307.0" cy="2641.3" r="1.72"/><circle cx="313.7" cy="2642.1" r="1.72"/><circle cx="320.4" cy="2642.1" r="1.72"/><circle cx="404.0" cy="2392.8" r="1.72"/><circle cx="437.0" cy="2405.1" r="1.72"/><circle cx="405.4" cy="2445.9" r="1.72"/><circle cx="449.3" cy="2444.0" r="1.72"/><circle cx="431.4" cy="2448.3" r="1.72"/><circle cx="411.3" cy="2451.8" r="1.72"/><circle cx="423.9" cy="2456.3" r="1.72"/><circle cx="437.0" cy="2456.3" r="1.72"/><circle cx="460.3" cy="2456.3" r="1.72"/><circle cx="457.1" cy="2461.7" r="1.72"/><circle cx="422.0" cy="2461.7" r="1.72"/><circle cx="417.2" cy="2464.4" r="1.72"/><circle cx="433.5" cy="2466.0" r="1.72"/><circle cx="409.1" cy="2472.4" r="1.72"/><circle cx="420.1" cy="2469.7" r="1.72"/><circle cx="428.7" cy="2471.3" r="1.72"/><circle cx="432.7" cy="2472.4" r="1.72"/><circle cx="436.7" cy="2472.7" r="1.72"/><circle cx="405.4" cy="2477.8" r="1.72"/><circle cx="408.6" cy="2484.5" r="1.72"/><circle cx="401.9" cy="2496.5" r="1.72"/><circle cx="405.4" cy="2509.4" r="1.72"/><circle cx="415.3" cy="2508.6" r="1.72"/><circle cx="411.3" cy="2512.9" r="1.72"/></g>
</g>
<g fill="#de303a" stroke="#b4181f" stroke-width="1.1"><circle cx="436.2" cy="2283.6" r="2.9"/><circle cx="543.2" cy="2283.6" r="2.9"/><circle cx="490.0" cy="2318.2" r="2.9"/><circle cx="410.5" cy="2325.0" r="2.9"/></g>
<line x1="326.00" y1="2178.80" x2="326.00" y2="2643.50" stroke="#151515" stroke-width="2.10"/>
<rect x="92.00" y="2178.80" width="467.50" height="464.70" fill="none" stroke="#151515" stroke-width="2.10"/>
<line x1="163.50" y1="2643.50" x2="163.50" y2="2647.00" stroke="#151515" stroke-width="1.60"/>
<text x="151.89" y="2671.60" font-size="28.00" textLength="23.40" lengthAdjust="spacingAndGlyphs" fill="#111" stroke="#111" stroke-width="0.6">-2</text>
<line x1="244.80" y1="2643.50" x2="244.80" y2="2647.00" stroke="#151515" stroke-width="1.60"/>
<text x="233.15" y="2671.60" font-size="28.00" textLength="23.40" lengthAdjust="spacingAndGlyphs" fill="#111" stroke="#111" stroke-width="0.6">-1</text>
<line x1="326.00" y1="2643.50" x2="326.00" y2="2647.00" stroke="#151515" stroke-width="1.60"/>
<text x="319.13" y="2671.60" font-size="28.00" textLength="13.70" lengthAdjust="spacingAndGlyphs" fill="#111" stroke="#111" stroke-width="0.6">0</text>
<line x1="406.70" y1="2643.50" x2="406.70" y2="2647.00" stroke="#151515" stroke-width="1.60"/>
<text x="399.52" y="2671.60" font-size="28.00" textLength="13.70" lengthAdjust="spacingAndGlyphs" fill="#111" stroke="#111" stroke-width="0.6">1</text>
<line x1="487.40" y1="2643.50" x2="487.40" y2="2647.00" stroke="#151515" stroke-width="1.60"/>
<text x="480.56" y="2671.60" font-size="28.00" textLength="13.70" lengthAdjust="spacingAndGlyphs" fill="#111" stroke="#111" stroke-width="0.6">2</text>
<line x1="88.80" y1="2643.50" x2="92.00" y2="2643.50" stroke="#151515" stroke-width="1.60"/>
<text x="71.41" y="2652.44" font-size="23.57" textLength="12.45" lengthAdjust="spacingAndGlyphs" fill="#111" stroke="#111" stroke-width="0.6">0</text>
<line x1="88.80" y1="2542.90" x2="92.00" y2="2542.90" stroke="#151515" stroke-width="1.60"/>
<text x="52.77" y="2551.84" font-size="23.57" textLength="31.13" lengthAdjust="spacingAndGlyphs" fill="#111" stroke="#111" stroke-width="0.6">0.5</text>
<line x1="88.80" y1="2442.40" x2="92.00" y2="2442.40" stroke="#151515" stroke-width="1.60"/>
<text x="52.71" y="2451.34" font-size="23.57" textLength="31.13" lengthAdjust="spacingAndGlyphs" fill="#111" stroke="#111" stroke-width="0.6">1.0</text>
<line x1="88.80" y1="2341.80" x2="92.00" y2="2341.80" stroke="#151515" stroke-width="1.60"/>
<text x="52.77" y="2350.74" font-size="23.57" textLength="31.13" lengthAdjust="spacingAndGlyphs" fill="#111" stroke="#111" stroke-width="0.6">1.5</text>
<line x1="88.80" y1="2241.80" x2="92.00" y2="2241.80" stroke="#151515" stroke-width="1.60"/>
<text x="52.71" y="2250.74" font-size="23.57" textLength="31.13" lengthAdjust="spacingAndGlyphs" fill="#111" stroke="#111" stroke-width="0.6">2.0</text>
<text x="201.16" y="2707.80" font-size="28.57" textLength="247.24" lengthAdjust="spacingAndGlyphs" fill="#111" stroke="#111" stroke-width="0.6">Log2 fold-change</text>
<text x="-1.23" y="0" font-size="27.71" textLength="152.06" lengthAdjust="spacingAndGlyphs" fill="#111" stroke="#111" stroke-width="0.6" transform="translate(33.20 2484.00) rotate(-90)">-Log10 p-val</text>
<rect x="952.90" y="2182.80" width="234.10" height="464.50" fill="#fefefc"/>
<rect x="952.90" y="2205.00" width="222.40" height="87.40" fill="#2b6aa2"/>
<rect x="952.90" y="2316.10" width="168.00" height="87.50" fill="#2b6aa2"/>
<rect x="952.90" y="2427.30" width="112.80" height="87.50" fill="#2b6aa2"/>
<rect x="952.90" y="2538.10" width="86.70" height="87.90" fill="#2b6aa2"/>
<rect x="952.90" y="2182.80" width="234.10" height="464.50" fill="none" stroke="#151515" stroke-width="2.00"/>
<line x1="954.10" y1="2647.30" x2="954.10" y2="2650.30" stroke="#151515" stroke-width="1.20"/>
<text x="948.28" y="2672.20" font-size="23.71" textLength="11.61" lengthAdjust="spacingAndGlyphs" fill="#111" stroke="#111" stroke-width="0.6">0</text>
<line x1="1036.50" y1="2647.30" x2="1036.50" y2="2650.30" stroke="#151515" stroke-width="1.20"/>
<text x="1021.61" y="2672.20" font-size="23.71" textLength="29.01" lengthAdjust="spacingAndGlyphs" fill="#111" stroke="#111" stroke-width="0.6">1.0</text>
<line x1="1118.20" y1="2647.30" x2="1118.20" y2="2650.30" stroke="#151515" stroke-width="1.20"/>
<text x="1103.57" y="2672.20" font-size="23.71" textLength="29.01" lengthAdjust="spacingAndGlyphs" fill="#111" stroke="#111" stroke-width="0.6">2.0</text>
<text x="981.29" y="2153.30" font-size="27.14" textLength="124.56" lengthAdjust="spacingAndGlyphs" fill="#111" stroke="#111" stroke-width="0.6">≤180 days</text>
<line x1="1017.90" y1="2167.30" x2="1069.30" y2="2167.30" stroke="#111" stroke-width="1.60"/>
<path d="M1072.30 2167.30 L1063.80 2163.30 L1066.30 2167.30 L1063.80 2171.30 Z" fill="#111"/>
<text x="826.60" y="2248.90" font-size="24.29" textLength="115.55" lengthAdjust="spacingAndGlyphs" fill="#111" stroke="#111" stroke-width="0.6">PWY-5265:</text>
<text x="716.55" y="2274.20" font-size="24.29" textLength="229.64" lengthAdjust="spacingAndGlyphs" fill="#111" stroke="#111" stroke-width="0.6">Peptidoglyc. biosyn. II</text>
<text x="825.90" y="2359.70" font-size="24.29" textLength="115.45" lengthAdjust="spacingAndGlyphs" fill="#111" stroke="#111" stroke-width="0.6">PWY-6953:</text>
<text x="737.14" y="2385.00" font-size="24.29" textLength="209.01" lengthAdjust="spacingAndGlyphs" fill="#111" stroke="#111" stroke-width="0.6">D-galactose biosyn.</text>
<text x="825.90" y="2466.20" font-size="24.29" textLength="115.45" lengthAdjust="spacingAndGlyphs" fill="#111" stroke="#111" stroke-width="0.6">PWY-7316:</text>
<text x="669.13" y="2491.50" font-size="24.29" textLength="277.04" lengthAdjust="spacingAndGlyphs" fill="#111" stroke="#111" stroke-width="0.6">N-acetylviosamine biosyn.</text>
<text x="788.68" y="2577.00" font-size="24.29" textLength="152.47" lengthAdjust="spacingAndGlyphs" fill="#111" stroke="#111" stroke-width="0.6">GLYCOLYSIS-E:</text>
<text x="681.63" y="2602.30" font-size="24.29" textLength="264.47" lengthAdjust="spacingAndGlyphs" fill="#111" stroke="#111" stroke-width="0.6">Glycolysis / Entner-Doud.</text>
<line x1="949.00" y1="2249.00" x2="952.90" y2="2249.00" stroke="#151515" stroke-width="1.30"/>
<line x1="949.00" y1="2360.00" x2="952.90" y2="2360.00" stroke="#151515" stroke-width="1.30"/>
<line x1="949.00" y1="2471.00" x2="952.90" y2="2471.00" stroke="#151515" stroke-width="1.30"/>
<line x1="949.00" y1="2582.00" x2="952.90" y2="2582.00" stroke="#151515" stroke-width="1.30"/>
<text x="968.88" y="2705.30" font-size="27.14" textLength="217.35" lengthAdjust="spacingAndGlyphs" fill="#111" stroke="#111" stroke-width="0.6">Log2 fold-change</text>
<line x1="1425.50" y1="2184.10" x2="1425.50" y2="2591.30" stroke="#151515" stroke-width="2.10"/>
<line x1="1424.50" y1="2590.30" x2="1590.20" y2="2590.30" stroke="#151515" stroke-width="2.10"/>
<line x1="1416.50" y1="2184.10" x2="1425.50" y2="2184.10" stroke="#151515" stroke-width="1.50"/>
<text x="1396.44" y="2196.60" font-size="25.71" textLength="11.57" lengthAdjust="spacingAndGlyphs" fill="#111" stroke="#111" stroke-width="0.6">1</text>
<line x1="1416.50" y1="2280.80" x2="1425.50" y2="2280.80" stroke="#151515" stroke-width="1.50"/>
<text x="1367.53" y="2289.30" font-size="25.00" textLength="29.22" lengthAdjust="spacingAndGlyphs" fill="#111" stroke="#111" stroke-width="0.6">10</text>
<text x="1397.05" y="2279.50" font-size="14.71" textLength="12.75" lengthAdjust="spacingAndGlyphs" fill="#111" stroke="#111" stroke-width="0.6">-1</text>
<line x1="1416.50" y1="2377.40" x2="1425.50" y2="2377.40" stroke="#151515" stroke-width="1.50"/>
<text x="1367.53" y="2385.90" font-size="25.00" textLength="29.22" lengthAdjust="spacingAndGlyphs" fill="#111" stroke="#111" stroke-width="0.6">10</text>
<text x="1397.05" y="2376.10" font-size="14.71" textLength="12.79" lengthAdjust="spacingAndGlyphs" fill="#111" stroke="#111" stroke-width="0.6">-2</text>
<line x1="1416.50" y1="2474.20" x2="1425.50" y2="2474.20" stroke="#151515" stroke-width="1.50"/>
<text x="1367.53" y="2482.70" font-size="25.00" textLength="29.22" lengthAdjust="spacingAndGlyphs" fill="#111" stroke="#111" stroke-width="0.6">10</text>
<text x="1397.06" y="2472.90" font-size="14.71" textLength="12.67" lengthAdjust="spacingAndGlyphs" fill="#111" stroke="#111" stroke-width="0.6">-3</text>
<line x1="1416.50" y1="2571.10" x2="1425.50" y2="2571.10" stroke="#151515" stroke-width="1.50"/>
<text x="1367.53" y="2579.60" font-size="25.00" textLength="29.22" lengthAdjust="spacingAndGlyphs" fill="#111" stroke="#111" stroke-width="0.6">10</text>
<text x="1397.00" y="2569.80" font-size="14.71" textLength="13.75" lengthAdjust="spacingAndGlyphs" fill="#111" stroke="#111" stroke-width="0.6">-4</text>
<line x1="1433.00" y1="2571.80" x2="1500.00" y2="2571.80" stroke="#a3a3a3" stroke-width="2.60"/>
<line x1="1514.60" y1="2571.80" x2="1582.10" y2="2571.80" stroke="#a3a3a3" stroke-width="2.60"/>
<line x1="1459.50" y1="2571.80" x2="1473.50" y2="2571.80" stroke="#3c9bd0" stroke-width="8.00" stroke-linecap="round"/>
<g fill="#e03843" stroke="#b3161f" stroke-width="1.1"><circle cx="1540.9" cy="2391.3" r="2.9"/><circle cx="1555.5" cy="2395.9" r="2.9"/><circle cx="1540.9" cy="2416.9" r="2.9"/><circle cx="1546.5" cy="2449.9" r="2.9"/><circle cx="1549.5" cy="2485.8" r="2.9"/></g>
<line x1="1541.50" y1="2571.80" x2="1554.50" y2="2571.80" stroke="#d3232b" stroke-width="7.80" stroke-linecap="round"/>
<text x="1388.32" y="2134.40" font-size="22.43" textLength="109.15" lengthAdjust="spacingAndGlyphs" fill="#111" stroke="#111" stroke-width="0.6">PWY5265:</text>
<text x="1388.25" y="2159.40" font-size="22.43" textLength="229.54" lengthAdjust="spacingAndGlyphs" fill="#111" stroke="#111" stroke-width="0.6">Peptidoglyc. biosyn. II</text>
<text x="1558.56" y="2539.40" font-size="22.43" textLength="86.25" lengthAdjust="spacingAndGlyphs" fill="#111" stroke="#111" stroke-width="0.6">p=0.016</text>
<text x="1432.13" y="2618.50" font-size="22.43" textLength="43.45" lengthAdjust="spacingAndGlyphs" fill="#111" stroke="#111" stroke-width="0.6">No |</text>
<text x="1503.20" y="2618.50" font-size="22.43" textLength="107.01" lengthAdjust="spacingAndGlyphs" fill="#111" stroke="#111" stroke-width="0.6">≤180 days</text>
<text x="1399.84" y="2648.60" font-size="22.43" textLength="107.98" lengthAdjust="spacingAndGlyphs" fill="#111" stroke="#111" stroke-width="0.6">&gt;180 days</text>
<text x="-2.22" y="0" font-size="28.29" textLength="188.58" lengthAdjust="spacingAndGlyphs" fill="#111" stroke="#111" stroke-width="0.6" transform="translate(1344.60 2474.00) rotate(-90)">Rel. abundance</text>
</svg>
</body></html>
